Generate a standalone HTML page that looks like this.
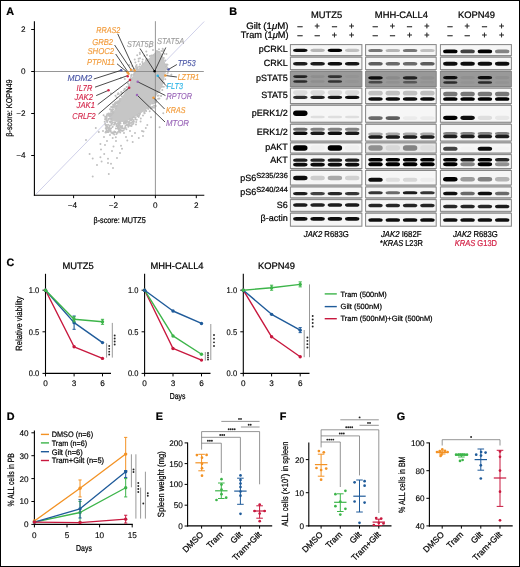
<!DOCTYPE html>
<html><head><meta charset="utf-8"><title>Figure</title>
<style>html,body{margin:0;padding:0;background:#fff;}svg{display:block;will-change:transform;}
text{font-family:"Liberation Sans", sans-serif;text-rendering:geometricPrecision;}</style></head>
<body><svg width="520" height="567" viewBox="0 0 520 567" font-family="'Liberation Sans', sans-serif"><rect x="0.5" y="0.5" width="519" height="566" fill="#fff" stroke="#000" stroke-width="1"/>
<text x="6.20" y="15.00" font-size="10.8" stroke="#000" stroke-width="0.22" font-weight="bold">A</text>
<text x="229.20" y="14.80" font-size="10.8" stroke="#000" stroke-width="0.22" font-weight="bold">B</text>
<text x="6.50" y="265.50" font-size="10.8" stroke="#000" stroke-width="0.22" font-weight="bold">C</text>
<text x="6.70" y="420.00" font-size="10.8" stroke="#000" stroke-width="0.22" font-weight="bold">D</text>
<text x="155.80" y="419.50" font-size="10.8" stroke="#000" stroke-width="0.22" font-weight="bold">E</text>
<text x="279.70" y="419.50" font-size="10.8" stroke="#000" stroke-width="0.22" font-weight="bold">F</text>
<text x="396.70" y="419.50" font-size="10.8" stroke="#000" stroke-width="0.22" font-weight="bold">G</text>
<line x1="36.00" y1="194.20" x2="204.20" y2="21.50" stroke="#c9cbe6" stroke-width="0.9"/>
<polygon points="157.0,51.5 149.8,58.5 143.0,63.8 139.0,69.2 134.5,73.5 131.5,80.0 129.5,85.4 126.5,91.0 122.5,97.0 119.0,103.0 115.5,109.0 112.5,115.0 111.0,120.0 118.0,122.0 126.0,121.0 133.0,117.0 140.0,113.0 145.0,110.0 148.5,107.0 151.0,104.0 153.8,101.5 155.2,96.0 159.2,90.8 162.0,85.4 163.3,80.0 164.6,74.6 166.0,69.2 164.6,63.8 163.3,58.5 160.6,53.0" fill="#c6c6c6" stroke="#c6c6c6" stroke-width="1.2" stroke-linejoin="round"/>
<path d="M109.7 114.5h0M113.4 111.9h0M108.5 113.4h0M165.6 64.4h0M140.0 58.3h0M128.9 124.6h0M144.4 113.2h0M131.7 75.1h0M112.5 110.3h0M134.3 68.8h0M133.9 117.0h0M166.4 54.0h0M162.7 48.8h0M159.4 98.5h0M156.9 51.1h0M152.4 106.7h0M135.2 117.6h0M113.1 113.1h0M132.2 66.0h0M110.4 114.5h0M120.5 123.6h0M140.6 121.4h0M109.7 128.6h0M128.5 87.0h0M146.3 59.0h0M131.1 75.9h0M134.0 74.3h0M112.6 109.6h0M136.1 67.5h0M149.9 56.2h0M125.7 121.3h0M114.3 131.4h0M139.4 66.6h0M111.3 115.6h0M116.5 106.2h0M148.5 108.8h0M150.7 108.6h0M143.0 115.5h0M118.2 93.2h0M134.4 72.9h0M130.4 125.8h0M131.7 79.1h0M153.0 50.0h0M155.7 106.0h0M162.3 89.9h0M140.1 64.2h0M136.4 69.1h0M118.8 127.9h0M146.3 51.4h0M120.8 77.9h0M131.9 119.4h0M113.3 107.2h0M131.6 122.7h0M129.9 80.4h0M120.4 99.0h0M130.8 62.3h0M168.0 72.0h0M113.8 132.4h0M163.4 50.3h0M139.1 115.7h0M115.0 103.3h0M166.9 68.7h0M131.5 74.8h0M139.9 54.0h0M161.4 51.0h0M118.9 101.2h0M145.8 110.8h0M159.3 52.1h0M124.5 123.2h0M105.1 119.2h0M147.2 59.3h0M106.1 119.1h0M158.6 92.1h0M104.7 121.7h0M154.2 101.1h0M147.0 55.1h0M131.0 80.2h0M138.6 58.8h0M124.8 79.1h0M158.1 51.8h0M152.9 103.5h0M118.6 128.9h0M126.6 89.9h0M171.4 74.7h0M158.2 98.8h0M146.2 110.9h0M137.2 55.3h0M164.1 82.7h0M115.5 95.8h0M135.5 71.2h0M158.7 95.6h0M115.2 123.1h0M116.7 97.6h0M167.5 64.8h0M115.9 103.6h0M166.7 64.6h0M116.6 102.6h0M114.8 106.5h0M137.6 67.4h0M111.6 114.7h0M128.7 85.1h0M162.0 86.7h0M123.7 90.6h0M135.4 62.6h0M137.5 69.3h0M130.9 78.4h0M108.7 114.5h0M148.2 109.1h0M125.0 123.6h0M135.1 72.6h0M151.4 55.6h0M117.9 123.3h0M115.5 104.5h0M138.6 61.2h0M142.8 63.7h0M137.6 67.2h0M167.5 73.5h0M133.6 74.6h0M166.2 66.5h0M136.2 122.0h0M130.4 120.0h0M140.1 113.8h0M152.0 107.9h0M125.4 126.0h0M137.9 115.8h0M128.7 122.2h0M143.5 131.6h0M112.5 111.0h0M110.9 93.5h0M166.6 99.3h0M119.8 101.2h0M112.7 122.6h0M154.0 107.7h0M119.9 99.6h0M166.0 66.4h0M116.5 106.6h0M144.3 55.7h0M117.7 94.2h0M171.3 74.7h0M162.6 51.2h0M164.7 75.1h0M154.9 102.4h0M153.2 55.2h0M161.1 95.9h0M163.3 113.2h0M124.2 128.8h0M121.4 94.0h0M157.6 95.7h0M150.5 107.0h0M106.2 125.1h0M129.6 79.5h0M131.9 119.5h0M146.7 60.8h0M142.7 59.6h0M161.0 96.0h0M111.8 124.0h0M105.1 116.7h0M144.7 113.3h0M148.2 107.4h0M111.2 119.3h0M149.5 46.9h0M129.3 64.9h0M118.8 93.9h0M129.2 121.5h0M159.0 49.2h0M167.2 67.4h0M137.5 68.4h0M103.6 115.3h0M137.3 116.0h0M119.8 100.3h0M125.0 121.9h0M147.9 108.1h0M132.3 70.2h0M109.7 125.9h0M117.8 127.5h0M164.2 53.8h0M136.0 124.5h0M121.8 96.2h0M118.9 131.6h0M130.9 78.1h0M167.1 69.5h0M114.0 124.8h0M139.8 52.7h0M124.5 89.1h0M156.2 100.0h0M132.4 117.9h0M111.3 118.4h0M114.6 123.7h0M117.6 101.9h0M115.8 108.5h0M163.8 86.8h0M138.6 117.0h0M108.7 119.1h0M134.7 59.4h0M149.7 111.3h0M113.1 104.5h0M136.6 65.0h0M124.9 88.8h0M119.9 99.1h0M137.2 115.0h0M149.9 56.1h0M136.0 71.1h0M159.6 91.4h0M128.0 83.2h0M117.4 125.5h0M162.1 86.7h0M126.6 87.1h0M127.3 121.5h0M119.2 122.3h0M140.8 118.6h0M142.3 62.0h0M144.4 112.8h0M165.2 60.4h0M155.0 99.0h0M121.2 92.0h0M153.6 103.2h0M156.3 102.0h0M125.1 121.9h0M163.8 57.9h0M154.1 105.7h0M127.5 125.1h0M132.9 119.8h0M120.4 123.3h0M166.7 86.3h0M113.0 107.5h0M122.5 92.8h0M145.9 60.6h0M135.9 66.2h0M165.3 79.3h0M144.2 111.9h0M136.7 119.7h0M118.9 123.9h0M129.9 123.7h0M122.1 131.1h0M112.7 126.8h0M112.6 111.4h0M106.7 132.3h0M111.0 114.9h0M110.6 122.5h0M126.6 125.1h0M110.8 131.1h0M116.5 134.1h0M114.6 104.3h0M113.0 111.6h0M112.3 132.6h0M107.5 131.2h0M110.7 113.2h0M119.2 124.6h0M132.1 124.6h0M106.8 116.6h0M125.1 127.4h0M114.3 134.5h0M124.3 122.6h0M115.4 122.9h0M118.6 128.6h0M122.0 127.9h0M105.7 128.3h0M127.7 124.4h0M117.8 103.8h0M114.5 104.9h0M110.1 113.4h0M138.9 113.7h0M105.9 119.2h0M128.8 123.6h0M115.3 102.6h0M106.3 126.9h0M106.7 118.1h0M110.8 109.6h0M121.1 126.6h0M111.6 113.9h0M130.1 119.7h0M107.2 126.7h0M107.7 132.0h0M111.2 111.3h0M105.4 118.5h0M126.8 122.3h0M133.6 121.8h0M133.4 123.7h0M113.5 112.5h0M132.0 118.7h0M106.6 120.4h0M108.6 131.9h0M107.2 122.1h0M106.4 125.4h0M114.5 106.1h0M108.1 124.7h0M119.2 100.5h0M108.8 130.1h0M128.7 125.9h0M113.9 106.7h0M106.5 129.6h0M116.4 124.3h0M127.0 124.6h0M132.9 121.7h0M113.1 106.3h0M107.1 114.2h0M109.9 125.5h0M109.4 116.3h0M116.4 126.0h0M105.7 125.2h0M111.8 121.5h0M112.5 106.5h0M126.4 129.3h0M112.2 111.6h0M105.9 131.4h0M129.7 122.7h0M131.5 126.0h0M111.3 107.1h0M105.5 132.5h0M115.1 106.7h0M122.8 130.4h0M120.0 121.9h0M123.5 130.4h0M105.2 123.9h0M120.0 130.5h0M122.7 128.0h0M139.5 114.4h0M107.3 120.9h0M135.3 119.2h0M110.4 131.1h0M115.4 131.9h0M111.1 107.0h0M120.6 129.4h0M117.0 133.0h0M111.0 119.0h0M107.9 127.7h0M113.3 106.6h0M110.6 116.4h0M126.4 121.3h0M108.9 114.8h0M128.3 126.8h0M110.6 121.6h0M125.6 127.8h0M105.2 124.3h0M110.1 130.4h0M106.8 115.8h0M115.3 108.5h0M108.9 128.9h0M116.8 106.0h0M125.5 123.3h0M130.4 120.2h0M132.7 117.8h0M119.1 122.4h0M105.8 119.6h0M106.7 131.1h0M108.7 130.5h0M112.0 113.2h0M120.9 130.3h0M108.7 127.4h0M107.2 127.9h0M119.7 125.8h0M111.1 128.5h0M124.4 122.0h0M118.1 126.8h0M135.6 117.6h0M109.8 121.7h0M113.0 133.4h0M120.2 127.5h0M115.5 102.4h0M120.8 126.6h0M109.9 109.3h0M108.2 114.0h0M123.8 123.5h0M118.8 102.5h0M111.3 132.8h0M133.6 120.5h0M118.5 125.8h0M119.9 128.1h0M108.7 129.4h0M113.1 109.6h0M120.2 132.6h0M111.2 107.2h0M115.1 104.5h0M130.0 118.9h0M127.7 124.6h0M122.3 125.9h0M118.8 129.7h0M112.5 127.0h0M107.0 131.4h0M121.8 127.0h0M109.6 118.6h0M106.0 131.7h0M117.6 132.7h0M131.1 120.6h0M108.7 115.4h0M110.4 130.9h0M118.8 131.2h0M115.9 128.6h0M119.8 131.4h0M108.3 119.6h0M114.6 122.7h0M109.1 118.7h0M133.9 121.7h0M117.7 128.4h0M117.3 101.6h0M110.3 128.8h0M112.1 114.2h0M109.6 126.8h0M123.9 122.3h0M111.6 124.8h0M95.8 128.0h0M98.8 132.0h0M104.0 137.0h0M112.7 138.0h0M115.8 137.3h0M127.3 140.4h0M132.7 142.0h0M138.8 138.0h0M100.4 144.0h0M105.0 145.0h0M113.5 146.5h0M121.0 145.8h0M122.0 148.8h0M101.0 149.6h0M112.0 151.0h0M89.6 154.0h0M104.2 154.0h0M92.7 158.5h0M100.4 157.3h0M101.6 161.6h0M108.0 158.8h0M108.0 163.0h0M111.0 163.8h0M108.8 174.0h0M92.7 176.5h0M159.6 127.3h0M145.8 128.0h0M147.3 125.0h0M151.0 117.3h0M118.0 132.0h0M124.0 133.0h0M130.0 131.0h0M135.0 133.0h0M142.0 131.0h0M110.0 135.0h0M116.0 141.0h0M103.0 131.0h0M107.0 141.0h0M120.0 153.0h0M117.0 158.0h0M97.0 165.0h0M113.0 168.0h0M86.0 140.0h0M143.0 136.0h0M126.0 137.0h0M132.0 136.0h0" stroke="#c0c0c0" stroke-width="2.0" stroke-linecap="round"/>
<line x1="34.40" y1="71.50" x2="203.80" y2="71.50" stroke="#8a8a8a" stroke-width="0.9"/>
<line x1="155.40" y1="21.20" x2="155.40" y2="195.20" stroke="#8a8a8a" stroke-width="0.9"/>
<line x1="34.40" y1="21.20" x2="34.40" y2="195.80" stroke="#000" stroke-width="1.1"/>
<line x1="33.90" y1="195.20" x2="204.30" y2="195.20" stroke="#000" stroke-width="1.1"/>
<line x1="31.20" y1="29.50" x2="34.40" y2="29.50" stroke="#000" stroke-width="1"/>
<text x="25.50" y="32.40" font-size="8.2" text-anchor="end" stroke="#000" stroke-width="0.1">2</text>
<line x1="31.20" y1="71.50" x2="34.40" y2="71.50" stroke="#000" stroke-width="1"/>
<text x="25.50" y="74.40" font-size="8.2" text-anchor="end" stroke="#000" stroke-width="0.1">0</text>
<line x1="31.20" y1="113.50" x2="34.40" y2="113.50" stroke="#000" stroke-width="1"/>
<text x="25.50" y="116.40" font-size="8.2" text-anchor="end" stroke="#000" stroke-width="0.1">−2</text>
<line x1="31.20" y1="155.50" x2="34.40" y2="155.50" stroke="#000" stroke-width="1"/>
<text x="25.50" y="158.40" font-size="8.2" text-anchor="end" stroke="#000" stroke-width="0.1">−4</text>
<line x1="73.60" y1="195.20" x2="73.60" y2="198.20" stroke="#000" stroke-width="1"/>
<text x="72.40" y="208.20" font-size="8.2" text-anchor="middle" stroke="#000" stroke-width="0.1">−4</text>
<line x1="114.50" y1="195.20" x2="114.50" y2="198.20" stroke="#000" stroke-width="1"/>
<text x="113.30" y="208.20" font-size="8.2" text-anchor="middle" stroke="#000" stroke-width="0.1">−2</text>
<line x1="155.40" y1="195.20" x2="155.40" y2="198.20" stroke="#000" stroke-width="1"/>
<text x="155.40" y="208.20" font-size="8.2" text-anchor="middle" stroke="#000" stroke-width="0.1">0</text>
<line x1="196.30" y1="195.20" x2="196.30" y2="198.20" stroke="#000" stroke-width="1"/>
<text x="196.30" y="208.20" font-size="8.2" text-anchor="middle" stroke="#000" stroke-width="0.1">2</text>
<text x="93.50" y="222.80" font-size="8.3" stroke="#000" stroke-width="0.22" textLength="52.3" lengthAdjust="spacingAndGlyphs">β-score: MUTZ5</text>
<text x="12.20" y="136.70" font-size="8.3" stroke="#000" stroke-width="0.22" textLength="57.3" lengthAdjust="spacingAndGlyphs" transform="rotate(-90 12.20 136.70)">β-score: KOPN49</text>
<line x1="117.70" y1="33.80" x2="134.60" y2="70.40" stroke="#2a2a2a" stroke-width="0.85"/>
<line x1="114.60" y1="45.00" x2="131.20" y2="69.80" stroke="#2a2a2a" stroke-width="0.85"/>
<line x1="115.70" y1="54.00" x2="128.50" y2="72.80" stroke="#2a2a2a" stroke-width="0.85"/>
<line x1="117.00" y1="63.80" x2="127.50" y2="72.40" stroke="#2a2a2a" stroke-width="0.85"/>
<line x1="140.00" y1="48.50" x2="154.60" y2="71.30" stroke="#2a2a2a" stroke-width="0.85"/>
<line x1="165.80" y1="47.50" x2="154.60" y2="71.30" stroke="#2a2a2a" stroke-width="0.85"/>
<line x1="176.90" y1="64.50" x2="168.50" y2="69.40" stroke="#2a2a2a" stroke-width="0.85"/>
<line x1="176.90" y1="77.00" x2="165.40" y2="75.50" stroke="#2a2a2a" stroke-width="0.85"/>
<line x1="165.80" y1="85.50" x2="157.70" y2="75.80" stroke="#2a2a2a" stroke-width="0.85"/>
<line x1="165.40" y1="95.50" x2="137.70" y2="81.80" stroke="#2a2a2a" stroke-width="0.85"/>
<line x1="164.60" y1="109.00" x2="153.50" y2="97.80" stroke="#2a2a2a" stroke-width="0.85"/>
<line x1="165.00" y1="122.00" x2="137.00" y2="95.00" stroke="#2a2a2a" stroke-width="0.85"/>
<line x1="93.80" y1="79.00" x2="121.20" y2="70.30" stroke="#2a2a2a" stroke-width="0.85"/>
<line x1="95.00" y1="87.20" x2="127.70" y2="75.60" stroke="#2a2a2a" stroke-width="0.85"/>
<line x1="96.20" y1="95.60" x2="108.50" y2="90.30" stroke="#2a2a2a" stroke-width="0.85"/>
<line x1="97.70" y1="104.60" x2="130.00" y2="80.00" stroke="#2a2a2a" stroke-width="0.85"/>
<line x1="98.50" y1="114.00" x2="129.20" y2="87.70" stroke="#2a2a2a" stroke-width="0.85"/>
<circle cx="131.00" cy="69.80" r="1.25" fill="#f29a38"/>
<circle cx="134.60" cy="70.40" r="1.25" fill="#f29a38"/>
<circle cx="127.50" cy="72.40" r="1.25" fill="#f29a38"/>
<circle cx="128.50" cy="73.80" r="1.25" fill="#f29a38"/>
<circle cx="121.20" cy="70.20" r="1.25" fill="#4a56a6"/>
<circle cx="168.50" cy="69.40" r="1.25" fill="#4a56a6"/>
<circle cx="154.60" cy="71.30" r="1.25" fill="#000"/>
<circle cx="127.70" cy="76.20" r="1.25" fill="#d4264a"/>
<circle cx="108.50" cy="90.30" r="1.25" fill="#d4264a"/>
<circle cx="130.00" cy="80.00" r="1.25" fill="#d4264a"/>
<circle cx="129.20" cy="87.70" r="1.25" fill="#d4264a"/>
<circle cx="157.70" cy="75.80" r="1.25" fill="#29b3e6"/>
<circle cx="165.40" cy="75.50" r="1.25" fill="#f29a38"/>
<circle cx="153.50" cy="97.80" r="1.25" fill="#f29a38"/>
<circle cx="137.70" cy="81.80" r="1.25" fill="#9a66b8"/>
<circle cx="137.00" cy="95.00" r="1.25" fill="#9a66b8"/>
<text x="96.20" y="32.70" font-size="8.6" fill="#f29a38" stroke="#f29a38" stroke-width="0.12" font-style="italic" textLength="24.1" lengthAdjust="spacingAndGlyphs">RRAS2</text>
<text x="92.30" y="44.50" font-size="8.6" fill="#f29a38" stroke="#f29a38" stroke-width="0.12" font-style="italic" textLength="20.7" lengthAdjust="spacingAndGlyphs">GRB2</text>
<text x="87.40" y="54.20" font-size="8.6" fill="#f29a38" stroke="#f29a38" stroke-width="0.12" font-style="italic" textLength="26.8" lengthAdjust="spacingAndGlyphs">SHOC2</text>
<text x="86.90" y="65.00" font-size="8.6" fill="#f29a38" stroke="#f29a38" stroke-width="0.12" font-style="italic" textLength="28.1" lengthAdjust="spacingAndGlyphs">PTPN11</text>
<text x="127.00" y="46.50" font-size="8.6" fill="#9c9c9c" stroke="#9c9c9c" stroke-width="0.12" font-style="italic" textLength="26.5" lengthAdjust="spacingAndGlyphs">STAT5B</text>
<text x="156.90" y="44.20" font-size="8.6" fill="#9c9c9c" stroke="#9c9c9c" stroke-width="0.12" font-style="italic" textLength="27.4" lengthAdjust="spacingAndGlyphs">STAT5A</text>
<text x="177.70" y="65.50" font-size="8.6" fill="#4a56a6" stroke="#4a56a6" stroke-width="0.12" font-style="italic" textLength="18.0" lengthAdjust="spacingAndGlyphs">TP53</text>
<text x="177.70" y="80.40" font-size="8.6" fill="#f29a38" stroke="#f29a38" stroke-width="0.12" font-style="italic" textLength="21.5" lengthAdjust="spacingAndGlyphs">LZTR1</text>
<text x="166.50" y="88.80" font-size="8.6" fill="#29b3e6" stroke="#29b3e6" stroke-width="0.12" font-style="italic" textLength="16.5" lengthAdjust="spacingAndGlyphs">FLT3</text>
<text x="166.50" y="98.50" font-size="8.6" fill="#9a66b8" stroke="#9a66b8" stroke-width="0.12" font-style="italic" textLength="25.5" lengthAdjust="spacingAndGlyphs">RPTOR</text>
<text x="166.00" y="113.00" font-size="8.6" fill="#f29a38" stroke="#f29a38" stroke-width="0.12" font-style="italic" textLength="19.4" lengthAdjust="spacingAndGlyphs">KRAS</text>
<text x="166.00" y="126.00" font-size="8.6" fill="#9a66b8" stroke="#9a66b8" stroke-width="0.12" font-style="italic" textLength="23" lengthAdjust="spacingAndGlyphs">MTOR</text>
<text x="67.40" y="81.20" font-size="8.6" fill="#4a56a6" stroke="#4a56a6" stroke-width="0.12" font-style="italic" textLength="24.9" lengthAdjust="spacingAndGlyphs">MDM2</text>
<text x="76.60" y="90.80" font-size="8.6" fill="#d4264a" stroke="#d4264a" stroke-width="0.12" font-style="italic" textLength="15.7" lengthAdjust="spacingAndGlyphs">IL7R</text>
<text x="74.60" y="99.70" font-size="8.6" fill="#d4264a" stroke="#d4264a" stroke-width="0.12" font-style="italic" textLength="18.4" lengthAdjust="spacingAndGlyphs">JAK2</text>
<text x="76.60" y="107.70" font-size="8.6" fill="#d4264a" stroke="#d4264a" stroke-width="0.12" font-style="italic" textLength="18.4" lengthAdjust="spacingAndGlyphs">JAK1</text>
<text x="72.30" y="118.50" font-size="8.6" fill="#d4264a" stroke="#d4264a" stroke-width="0.12" font-style="italic" textLength="23.4" lengthAdjust="spacingAndGlyphs">CRLF2</text>
<text x="287.80" y="52.40" font-size="9" text-anchor="end" stroke="#000" stroke-width="0.22">pCRKL</text>
<text x="287.80" y="65.70" font-size="9" text-anchor="end" stroke="#000" stroke-width="0.22">CRKL</text>
<text x="287.80" y="81.00" font-size="9" text-anchor="end" stroke="#000" stroke-width="0.22">pSTAT5</text>
<text x="287.80" y="98.00" font-size="9" text-anchor="end" stroke="#000" stroke-width="0.22">STAT5</text>
<text x="287.80" y="116.20" font-size="9" text-anchor="end" stroke="#000" stroke-width="0.22">pERK1/2</text>
<text x="287.80" y="134.80" font-size="9" text-anchor="end" stroke="#000" stroke-width="0.22">ERK1/2</text>
<text x="287.80" y="149.60" font-size="9" text-anchor="end" stroke="#000" stroke-width="0.22">pAKT</text>
<text x="287.80" y="163.30" font-size="9" text-anchor="end" stroke="#000" stroke-width="0.22">AKT</text>
<text x="287.80" y="207.60" font-size="9" text-anchor="end" stroke="#000" stroke-width="0.22">S6</text>
<text x="287.80" y="221.20" font-size="9" text-anchor="end" stroke="#000" stroke-width="0.22">β-actin</text>
<text x="287.80" y="181.40" font-size="9" text-anchor="end" stroke="#000" stroke-width="0.22">pS6<tspan font-size="7.4" dy="-3.6">S235/236</tspan></text>
<text x="287.80" y="195.20" font-size="9" text-anchor="end" stroke="#000" stroke-width="0.22">pS6<tspan font-size="7.4" dy="-3.6">S240/244</tspan></text>
<text x="326.65" y="17.50" font-size="9.4" text-anchor="middle" stroke="#000" stroke-width="0.22">MUTZ5</text>
<text x="401.40" y="17.50" font-size="9.4" text-anchor="middle" stroke="#000" stroke-width="0.22">MHH-CALL4</text>
<text x="476.40" y="17.50" font-size="9.4" text-anchor="middle" stroke="#000" stroke-width="0.22">KOPN49</text>
<text x="246.20" y="29.10" font-size="9.4" stroke="#000" stroke-width="0.22" textLength="42.3" lengthAdjust="spacingAndGlyphs">Gilt (1<tspan font-style="italic">μ</tspan>M)</text>
<text x="240.80" y="38.20" font-size="9.4" stroke="#000" stroke-width="0.22" textLength="47.7" lengthAdjust="spacingAndGlyphs">Tram (1<tspan font-style="italic">μ</tspan>M)</text>
<text x="300.00" y="29.30" font-size="9" text-anchor="middle" stroke="#000" stroke-width="0.22">–</text>
<text x="300.00" y="38.40" font-size="9" text-anchor="middle" stroke="#000" stroke-width="0.22">–</text>
<text x="317.20" y="29.30" font-size="9" text-anchor="middle" stroke="#000" stroke-width="0.22">+</text>
<text x="317.20" y="38.40" font-size="9" text-anchor="middle" stroke="#000" stroke-width="0.22">–</text>
<text x="334.40" y="29.30" font-size="9" text-anchor="middle" stroke="#000" stroke-width="0.22">–</text>
<text x="334.40" y="38.40" font-size="9" text-anchor="middle" stroke="#000" stroke-width="0.22">+</text>
<text x="351.60" y="29.30" font-size="9" text-anchor="middle" stroke="#000" stroke-width="0.22">+</text>
<text x="351.60" y="38.40" font-size="9" text-anchor="middle" stroke="#000" stroke-width="0.22">+</text>
<text x="375.20" y="29.30" font-size="9" text-anchor="middle" stroke="#000" stroke-width="0.22">–</text>
<text x="375.20" y="38.40" font-size="9" text-anchor="middle" stroke="#000" stroke-width="0.22">–</text>
<text x="392.40" y="29.30" font-size="9" text-anchor="middle" stroke="#000" stroke-width="0.22">+</text>
<text x="392.40" y="38.40" font-size="9" text-anchor="middle" stroke="#000" stroke-width="0.22">–</text>
<text x="409.60" y="29.30" font-size="9" text-anchor="middle" stroke="#000" stroke-width="0.22">–</text>
<text x="409.60" y="38.40" font-size="9" text-anchor="middle" stroke="#000" stroke-width="0.22">+</text>
<text x="426.80" y="29.30" font-size="9" text-anchor="middle" stroke="#000" stroke-width="0.22">+</text>
<text x="426.80" y="38.40" font-size="9" text-anchor="middle" stroke="#000" stroke-width="0.22">+</text>
<text x="450.00" y="29.30" font-size="9" text-anchor="middle" stroke="#000" stroke-width="0.22">–</text>
<text x="450.00" y="38.40" font-size="9" text-anchor="middle" stroke="#000" stroke-width="0.22">–</text>
<text x="467.20" y="29.30" font-size="9" text-anchor="middle" stroke="#000" stroke-width="0.22">+</text>
<text x="467.20" y="38.40" font-size="9" text-anchor="middle" stroke="#000" stroke-width="0.22">–</text>
<text x="484.40" y="29.30" font-size="9" text-anchor="middle" stroke="#000" stroke-width="0.22">–</text>
<text x="484.40" y="38.40" font-size="9" text-anchor="middle" stroke="#000" stroke-width="0.22">+</text>
<text x="501.60" y="29.30" font-size="9" text-anchor="middle" stroke="#000" stroke-width="0.22">+</text>
<text x="501.60" y="38.40" font-size="9" text-anchor="middle" stroke="#000" stroke-width="0.22">+</text>
<defs><filter id="bl" x="-20%" y="-80%" width="140%" height="260%"><feGaussianBlur stdDeviation="0.7"/></filter></defs>
<rect x="290.70" y="44.60" width="70.90" height="181.60" fill="#bcbcbc"/>
<rect x="290.40" y="44.60" width="71.50" height="11.00" fill="#f6f6f6" stroke="#858585" stroke-width="1"/>
<g filter="url(#bl)"><rect x="293.10" y="48.70" width="14.40" height="3.20" rx="3" ry="1.60" fill="#0d0d0d"/><rect x="310.40" y="48.70" width="14.40" height="3.20" rx="3" ry="1.60" fill="#b5b5b5"/><rect x="327.70" y="48.70" width="14.40" height="3.20" rx="3" ry="1.60" fill="#000000"/><rect x="345.00" y="48.70" width="14.40" height="3.20" rx="3" ry="1.60" fill="#c0c0c0"/></g>
<rect x="290.40" y="57.20" width="71.50" height="12.40" fill="#f6f6f6" stroke="#858585" stroke-width="1"/>
<g filter="url(#bl)"><rect x="293.10" y="62.10" width="14.40" height="3.40" rx="3" ry="1.70" fill="#1b1b1b"/><rect x="310.40" y="62.10" width="14.40" height="3.40" rx="3" ry="1.70" fill="#1b1b1b"/><rect x="327.70" y="62.10" width="14.40" height="3.40" rx="3" ry="1.70" fill="#0d0d0d"/><rect x="345.00" y="62.10" width="14.40" height="3.40" rx="3" ry="1.70" fill="#161616"/></g>
<rect x="290.40" y="71.50" width="71.50" height="15.00" fill="#999999" stroke="#858585" stroke-width="1"/>
<g filter="url(#bl)"><rect x="293.10" y="75.30" width="14.40" height="2.60" rx="3" ry="1.30" fill="#212121"/><rect x="310.40" y="75.30" width="14.40" height="2.60" rx="3" ry="1.30" fill="#8e8e8e"/><rect x="327.70" y="75.30" width="14.40" height="2.60" rx="3" ry="1.30" fill="#313131"/><rect x="345.00" y="75.30" width="14.40" height="2.60" rx="3" ry="1.30" fill="#949494"/><rect x="293.10" y="80.20" width="14.40" height="2.60" rx="3" ry="1.30" fill="#292929"/><rect x="310.40" y="80.20" width="14.40" height="2.60" rx="3" ry="1.30" fill="#8e8e8e"/><rect x="327.70" y="80.20" width="14.40" height="2.60" rx="3" ry="1.30" fill="#313131"/><rect x="345.00" y="80.20" width="14.40" height="2.60" rx="3" ry="1.30" fill="#949494"/></g>
<rect x="290.40" y="88.20" width="71.50" height="15.30" fill="#f6f6f6" stroke="#858585" stroke-width="1"/>
<g filter="url(#bl)"><rect x="293.10" y="90.15" width="14.40" height="4.90" rx="3" ry="2.45" fill="#dedede"/><rect x="310.40" y="90.15" width="14.40" height="4.90" rx="3" ry="2.45" fill="#dadada"/><rect x="327.70" y="90.15" width="14.40" height="4.90" rx="3" ry="2.45" fill="#dadada"/><rect x="345.00" y="90.15" width="14.40" height="4.90" rx="3" ry="2.45" fill="#dadada"/><rect x="293.10" y="95.65" width="14.40" height="3.30" rx="3" ry="1.65" fill="#303030"/><rect x="310.40" y="95.65" width="14.40" height="3.30" rx="3" ry="1.65" fill="#202020"/><rect x="327.70" y="95.65" width="14.40" height="3.30" rx="3" ry="1.65" fill="#161616"/><rect x="345.00" y="95.65" width="14.40" height="3.30" rx="3" ry="1.65" fill="#0d0d0d"/></g>
<rect x="290.40" y="105.30" width="71.50" height="16.90" fill="#f6f6f6" stroke="#858585" stroke-width="1"/>
<g filter="url(#bl)"><rect x="293.10" y="110.55" width="14.40" height="5.50" rx="3" ry="2.75" fill="#000000"/><rect x="310.40" y="115.80" width="14.40" height="2.40" rx="3" ry="1.20" fill="#dedede"/><rect x="327.70" y="115.80" width="14.40" height="2.40" rx="3" ry="1.20" fill="#dedede"/><rect x="345.00" y="115.80" width="14.40" height="2.40" rx="3" ry="1.20" fill="#dedede"/></g>
<rect x="290.40" y="124.30" width="71.50" height="16.70" fill="#f6f6f6" stroke="#858585" stroke-width="1"/>
<g filter="url(#bl)"><rect x="293.10" y="127.75" width="14.40" height="3.10" rx="3" ry="1.55" fill="#6a6a6a"/><rect x="310.40" y="127.75" width="14.40" height="3.10" rx="3" ry="1.55" fill="#838383"/><rect x="327.70" y="127.75" width="14.40" height="3.10" rx="3" ry="1.55" fill="#838383"/><rect x="345.00" y="127.75" width="14.40" height="3.10" rx="3" ry="1.55" fill="#838383"/><rect x="293.10" y="131.45" width="14.40" height="3.50" rx="3" ry="1.75" fill="#0d0d0d"/><rect x="310.40" y="131.45" width="14.40" height="3.50" rx="3" ry="1.75" fill="#1b1b1b"/><rect x="327.70" y="131.45" width="14.40" height="3.50" rx="3" ry="1.75" fill="#0d0d0d"/><rect x="345.00" y="131.45" width="14.40" height="3.50" rx="3" ry="1.75" fill="#1b1b1b"/></g>
<rect x="290.40" y="142.90" width="71.50" height="10.10" fill="#f6f6f6" stroke="#858585" stroke-width="1"/>
<g filter="url(#bl)"><rect x="293.10" y="145.35" width="14.40" height="5.30" rx="3" ry="2.65" fill="#000000"/><rect x="310.40" y="145.35" width="14.40" height="5.30" rx="3" ry="2.65" fill="#efefef"/><rect x="327.70" y="145.35" width="14.40" height="5.30" rx="3" ry="2.65" fill="#000000"/><rect x="345.00" y="145.35" width="14.40" height="5.30" rx="3" ry="2.65" fill="#efefef"/></g>
<rect x="290.40" y="154.60" width="71.50" height="13.90" fill="#f6f6f6" stroke="#858585" stroke-width="1"/>
<g filter="url(#bl)"><rect x="293.10" y="158.55" width="14.40" height="3.30" rx="3" ry="1.65" fill="#1b1b1b"/><rect x="310.40" y="158.55" width="14.40" height="3.30" rx="3" ry="1.65" fill="#282828"/><rect x="327.70" y="158.55" width="14.40" height="3.30" rx="3" ry="1.65" fill="#1b1b1b"/><rect x="345.00" y="158.55" width="14.40" height="3.30" rx="3" ry="1.65" fill="#1b1b1b"/><rect x="293.10" y="162.65" width="14.40" height="3.90" rx="3" ry="1.95" fill="#0d0d0d"/><rect x="310.40" y="162.65" width="14.40" height="3.90" rx="3" ry="1.95" fill="#0d0d0d"/><rect x="327.70" y="162.65" width="14.40" height="3.90" rx="3" ry="1.95" fill="#0d0d0d"/><rect x="345.00" y="162.65" width="14.40" height="3.90" rx="3" ry="1.95" fill="#0d0d0d"/></g>
<rect x="290.40" y="170.50" width="71.50" height="14.50" fill="#f6f6f6" stroke="#858585" stroke-width="1"/>
<g filter="url(#bl)"><rect x="293.10" y="175.65" width="14.40" height="4.50" rx="3" ry="2.25" fill="#0d0d0d"/><rect x="310.40" y="175.65" width="14.40" height="4.50" rx="3" ry="2.25" fill="#cccccc"/><rect x="327.70" y="175.65" width="14.40" height="4.50" rx="3" ry="2.25" fill="#a8a8a8"/><rect x="345.00" y="175.65" width="14.40" height="4.50" rx="3" ry="2.25" fill="#d1d1d1"/></g>
<rect x="290.40" y="187.00" width="71.50" height="10.80" fill="#f6f6f6" stroke="#858585" stroke-width="1"/>
<g filter="url(#bl)"><rect x="293.10" y="192.05" width="14.40" height="3.10" rx="3" ry="1.55" fill="#1b1b1b"/><rect x="310.40" y="192.05" width="14.40" height="3.10" rx="3" ry="1.55" fill="#434343"/><rect x="327.70" y="192.05" width="14.40" height="3.10" rx="3" ry="1.55" fill="#282828"/><rect x="345.00" y="192.05" width="14.40" height="3.10" rx="3" ry="1.55" fill="#363636"/></g>
<rect x="290.40" y="199.60" width="71.50" height="11.70" fill="#f6f6f6" stroke="#858585" stroke-width="1"/>
<g filter="url(#bl)"><rect x="293.10" y="203.25" width="14.40" height="3.50" rx="3" ry="1.75" fill="#1b1b1b"/><rect x="310.40" y="203.25" width="14.40" height="3.50" rx="3" ry="1.75" fill="#202020"/><rect x="327.70" y="203.25" width="14.40" height="3.50" rx="3" ry="1.75" fill="#1b1b1b"/><rect x="345.00" y="203.25" width="14.40" height="3.50" rx="3" ry="1.75" fill="#1b1b1b"/></g>
<rect x="290.40" y="213.20" width="71.50" height="13.00" fill="#f6f6f6" stroke="#858585" stroke-width="1"/>
<g filter="url(#bl)"><rect x="293.10" y="216.95" width="14.40" height="3.70" rx="3" ry="1.85" fill="#0d0d0d"/><rect x="310.40" y="216.95" width="14.40" height="3.70" rx="3" ry="1.85" fill="#0d0d0d"/><rect x="327.70" y="216.95" width="14.40" height="3.70" rx="3" ry="1.85" fill="#0d0d0d"/><rect x="345.00" y="216.95" width="14.40" height="3.70" rx="3" ry="1.85" fill="#0d0d0d"/></g>
<rect x="365.90" y="44.60" width="70.00" height="181.60" fill="#bcbcbc"/>
<rect x="365.60" y="44.60" width="70.60" height="11.00" fill="#f6f6f6" stroke="#858585" stroke-width="1"/>
<g filter="url(#bl)"><rect x="368.30" y="48.95" width="14.40" height="3.10" rx="3" ry="1.55" fill="#777777"/><rect x="385.60" y="48.95" width="14.40" height="3.10" rx="3" ry="1.55" fill="#b5b5b5"/><rect x="402.90" y="48.95" width="14.40" height="3.10" rx="3" ry="1.55" fill="#777777"/><rect x="420.20" y="48.95" width="14.40" height="3.10" rx="3" ry="1.55" fill="#c0c0c0"/></g>
<rect x="365.60" y="57.20" width="70.60" height="12.40" fill="#f6f6f6" stroke="#858585" stroke-width="1"/>
<g filter="url(#bl)"><rect x="368.30" y="62.05" width="14.40" height="3.50" rx="3" ry="1.75" fill="#5d5d5d"/><rect x="385.60" y="62.05" width="14.40" height="3.50" rx="3" ry="1.75" fill="#6a6a6a"/><rect x="402.90" y="62.05" width="14.40" height="3.50" rx="3" ry="1.75" fill="#6a6a6a"/><rect x="420.20" y="62.05" width="14.40" height="3.50" rx="3" ry="1.75" fill="#5d5d5d"/></g>
<rect x="365.60" y="71.50" width="70.60" height="15.00" fill="#999999" stroke="#858585" stroke-width="1"/>
<g filter="url(#bl)"><rect x="368.30" y="76.15" width="14.40" height="3.30" rx="3" ry="1.65" fill="#0a0a0a"/><rect x="385.60" y="76.15" width="14.40" height="3.30" rx="3" ry="1.65" fill="#8b8b8b"/><rect x="402.90" y="76.15" width="14.40" height="3.30" rx="3" ry="1.65" fill="#212121"/><rect x="420.20" y="76.15" width="14.40" height="3.30" rx="3" ry="1.65" fill="#909090"/><rect x="368.30" y="80.90" width="14.40" height="2.60" rx="3" ry="1.30" fill="#474747"/><rect x="385.60" y="80.90" width="14.40" height="2.60" rx="3" ry="1.30" fill="#909090"/><rect x="402.90" y="80.90" width="14.40" height="2.60" rx="3" ry="1.30" fill="#565656"/><rect x="420.20" y="80.90" width="14.40" height="2.60" rx="3" ry="1.30" fill="#939393"/></g>
<rect x="365.60" y="88.20" width="70.60" height="15.30" fill="#f6f6f6" stroke="#858585" stroke-width="1"/>
<g filter="url(#bl)"><rect x="368.30" y="90.85" width="14.40" height="4.70" rx="3" ry="2.35" fill="#c0c0c0"/><rect x="385.60" y="90.85" width="14.40" height="4.70" rx="3" ry="2.35" fill="#c0c0c0"/><rect x="402.90" y="90.85" width="14.40" height="4.70" rx="3" ry="2.35" fill="#c0c0c0"/><rect x="420.20" y="90.85" width="14.40" height="4.70" rx="3" ry="2.35" fill="#c0c0c0"/><rect x="368.30" y="97.30" width="14.40" height="3.40" rx="3" ry="1.70" fill="#0d0d0d"/><rect x="385.60" y="97.30" width="14.40" height="3.40" rx="3" ry="1.70" fill="#0d0d0d"/><rect x="402.90" y="97.30" width="14.40" height="3.40" rx="3" ry="1.70" fill="#0d0d0d"/><rect x="420.20" y="97.30" width="14.40" height="3.40" rx="3" ry="1.70" fill="#0d0d0d"/></g>
<rect x="365.60" y="105.30" width="70.60" height="16.90" fill="#f6f6f6" stroke="#858585" stroke-width="1"/>
<g filter="url(#bl)"><rect x="368.30" y="116.25" width="14.40" height="3.70" rx="3" ry="1.85" fill="#6a6a6a"/><rect x="385.60" y="116.25" width="14.40" height="3.70" rx="3" ry="1.85" fill="#5d5d5d"/><rect x="402.90" y="116.25" width="14.40" height="3.70" rx="3" ry="1.85" fill="#ebebeb"/><rect x="420.20" y="116.25" width="14.40" height="3.70" rx="3" ry="1.85" fill="#ebebeb"/></g>
<rect x="365.60" y="124.30" width="70.60" height="16.70" fill="#f6f6f6" stroke="#858585" stroke-width="1"/>
<g filter="url(#bl)"><rect x="368.30" y="132.45" width="14.40" height="3.10" rx="3" ry="1.55" fill="#a8a8a8"/><rect x="385.60" y="132.45" width="14.40" height="3.10" rx="3" ry="1.55" fill="#a8a8a8"/><rect x="402.90" y="132.45" width="14.40" height="3.10" rx="3" ry="1.55" fill="#a8a8a8"/><rect x="420.20" y="132.45" width="14.40" height="3.10" rx="3" ry="1.55" fill="#a8a8a8"/><rect x="368.30" y="135.25" width="14.40" height="3.50" rx="3" ry="1.75" fill="#1b1b1b"/><rect x="385.60" y="135.25" width="14.40" height="3.50" rx="3" ry="1.75" fill="#1b1b1b"/><rect x="402.90" y="135.25" width="14.40" height="3.50" rx="3" ry="1.75" fill="#1b1b1b"/><rect x="420.20" y="135.25" width="14.40" height="3.50" rx="3" ry="1.75" fill="#1b1b1b"/></g>
<rect x="365.60" y="142.90" width="70.60" height="10.10" fill="#e8e8e8" stroke="#858585" stroke-width="1"/>
<g filter="url(#bl)"><rect x="368.30" y="145.25" width="14.40" height="5.50" rx="3" ry="2.75" fill="#909090"/><rect x="385.60" y="145.25" width="14.40" height="5.50" rx="3" ry="2.75" fill="#d7d7d7"/><rect x="402.90" y="145.25" width="14.40" height="5.50" rx="3" ry="2.75" fill="#838383"/><rect x="420.20" y="145.25" width="14.40" height="5.50" rx="3" ry="2.75" fill="#dedede"/></g>
<rect x="365.60" y="154.60" width="70.60" height="13.90" fill="#f6f6f6" stroke="#858585" stroke-width="1"/>
<g filter="url(#bl)"><rect x="368.30" y="158.05" width="14.40" height="3.50" rx="3" ry="1.75" fill="#000000"/><rect x="385.60" y="158.05" width="14.40" height="3.50" rx="3" ry="1.75" fill="#000000"/><rect x="402.90" y="158.05" width="14.40" height="3.50" rx="3" ry="1.75" fill="#000000"/><rect x="420.20" y="158.05" width="14.40" height="3.50" rx="3" ry="1.75" fill="#000000"/><rect x="368.30" y="162.25" width="14.40" height="4.10" rx="3" ry="2.05" fill="#000000"/><rect x="385.60" y="162.25" width="14.40" height="4.10" rx="3" ry="2.05" fill="#000000"/><rect x="402.90" y="162.25" width="14.40" height="4.10" rx="3" ry="2.05" fill="#000000"/><rect x="420.20" y="162.25" width="14.40" height="4.10" rx="3" ry="2.05" fill="#000000"/></g>
<rect x="365.60" y="170.50" width="70.60" height="14.50" fill="#f6f6f6" stroke="#858585" stroke-width="1"/>
<g filter="url(#bl)"><rect x="368.30" y="177.75" width="14.40" height="4.10" rx="3" ry="2.05" fill="#0d0d0d"/><rect x="385.60" y="177.75" width="14.40" height="4.10" rx="3" ry="2.05" fill="#dedede"/><rect x="402.90" y="177.75" width="14.40" height="4.10" rx="3" ry="2.05" fill="#d7d7d7"/><rect x="420.20" y="177.75" width="14.40" height="4.10" rx="3" ry="2.05" fill="#ededed"/></g>
<rect x="365.60" y="187.00" width="70.60" height="10.80" fill="#f6f6f6" stroke="#858585" stroke-width="1"/>
<g filter="url(#bl)"><rect x="368.30" y="191.25" width="14.40" height="3.10" rx="3" ry="1.55" fill="#363636"/><rect x="385.60" y="191.25" width="14.40" height="3.10" rx="3" ry="1.55" fill="#6a6a6a"/><rect x="402.90" y="191.25" width="14.40" height="3.10" rx="3" ry="1.55" fill="#1b1b1b"/><rect x="420.20" y="191.25" width="14.40" height="3.10" rx="3" ry="1.55" fill="#363636"/></g>
<rect x="365.60" y="199.60" width="70.60" height="11.70" fill="#f6f6f6" stroke="#858585" stroke-width="1"/>
<g filter="url(#bl)"><rect x="368.30" y="203.65" width="14.40" height="3.50" rx="3" ry="1.75" fill="#282828"/><rect x="385.60" y="203.65" width="14.40" height="3.50" rx="3" ry="1.75" fill="#282828"/><rect x="402.90" y="203.65" width="14.40" height="3.50" rx="3" ry="1.75" fill="#282828"/><rect x="420.20" y="203.65" width="14.40" height="3.50" rx="3" ry="1.75" fill="#282828"/></g>
<rect x="365.60" y="213.20" width="70.60" height="13.00" fill="#f6f6f6" stroke="#858585" stroke-width="1"/>
<g filter="url(#bl)"><rect x="368.30" y="218.15" width="14.40" height="3.70" rx="3" ry="1.85" fill="#0d0d0d"/><rect x="385.60" y="218.15" width="14.40" height="3.70" rx="3" ry="1.85" fill="#0d0d0d"/><rect x="402.90" y="218.15" width="14.40" height="3.70" rx="3" ry="1.85" fill="#0d0d0d"/><rect x="420.20" y="218.15" width="14.40" height="3.70" rx="3" ry="1.85" fill="#0d0d0d"/></g>
<rect x="440.70" y="44.60" width="70.40" height="181.60" fill="#bcbcbc"/>
<rect x="440.40" y="44.60" width="71.00" height="11.00" fill="#f6f6f6" stroke="#858585" stroke-width="1"/>
<g filter="url(#bl)"><rect x="443.10" y="49.45" width="14.40" height="3.90" rx="3" ry="1.95" fill="#000000"/><rect x="460.40" y="49.45" width="14.40" height="3.90" rx="3" ry="1.95" fill="#434343"/><rect x="477.70" y="49.45" width="14.40" height="3.90" rx="3" ry="1.95" fill="#000000"/><rect x="495.00" y="49.45" width="14.40" height="3.90" rx="3" ry="1.95" fill="#838383"/></g>
<rect x="440.40" y="57.20" width="71.00" height="12.40" fill="#f6f6f6" stroke="#858585" stroke-width="1"/>
<g filter="url(#bl)"><rect x="443.10" y="61.85" width="14.40" height="3.90" rx="3" ry="1.95" fill="#0d0d0d"/><rect x="460.40" y="61.85" width="14.40" height="3.90" rx="3" ry="1.95" fill="#0d0d0d"/><rect x="477.70" y="61.85" width="14.40" height="3.90" rx="3" ry="1.95" fill="#0d0d0d"/><rect x="495.00" y="61.85" width="14.40" height="3.90" rx="3" ry="1.95" fill="#0d0d0d"/></g>
<rect x="440.40" y="71.50" width="71.00" height="15.00" fill="#999999" stroke="#858585" stroke-width="1"/>
<g filter="url(#bl)"><rect x="443.10" y="75.90" width="14.40" height="3.40" rx="3" ry="1.70" fill="#0a0a0a"/><rect x="460.40" y="75.90" width="14.40" height="3.40" rx="3" ry="1.70" fill="#909090"/><rect x="477.70" y="75.90" width="14.40" height="3.40" rx="3" ry="1.70" fill="#0a0a0a"/><rect x="495.00" y="75.90" width="14.40" height="3.40" rx="3" ry="1.70" fill="#909090"/><rect x="443.10" y="81.15" width="14.40" height="2.70" rx="3" ry="1.35" fill="#292929"/><rect x="460.40" y="81.15" width="14.40" height="2.70" rx="3" ry="1.35" fill="#939393"/><rect x="477.70" y="81.15" width="14.40" height="2.70" rx="3" ry="1.35" fill="#292929"/><rect x="495.00" y="81.15" width="14.40" height="2.70" rx="3" ry="1.35" fill="#939393"/></g>
<rect x="440.40" y="88.20" width="71.00" height="15.30" fill="#f6f6f6" stroke="#858585" stroke-width="1"/>
<g filter="url(#bl)"><rect x="443.10" y="91.65" width="14.40" height="4.70" rx="3" ry="2.35" fill="#777777"/><rect x="460.40" y="91.65" width="14.40" height="4.70" rx="3" ry="2.35" fill="#777777"/><rect x="477.70" y="91.65" width="14.40" height="4.70" rx="3" ry="2.35" fill="#777777"/><rect x="495.00" y="91.65" width="14.40" height="4.70" rx="3" ry="2.35" fill="#777777"/><rect x="443.10" y="97.15" width="14.40" height="3.70" rx="3" ry="1.85" fill="#000000"/><rect x="460.40" y="97.15" width="14.40" height="3.70" rx="3" ry="1.85" fill="#000000"/><rect x="477.70" y="97.15" width="14.40" height="3.70" rx="3" ry="1.85" fill="#000000"/><rect x="495.00" y="97.15" width="14.40" height="3.70" rx="3" ry="1.85" fill="#000000"/></g>
<rect x="440.40" y="105.30" width="71.00" height="16.90" fill="#f6f6f6" stroke="#858585" stroke-width="1"/>
<g filter="url(#bl)"><rect x="443.10" y="115.65" width="14.40" height="4.30" rx="3" ry="2.15" fill="#000000"/><rect x="460.40" y="115.65" width="14.40" height="4.30" rx="3" ry="2.15" fill="#0d0d0d"/><rect x="477.70" y="115.65" width="14.40" height="4.30" rx="3" ry="2.15" fill="#dedede"/><rect x="495.00" y="115.65" width="14.40" height="4.30" rx="3" ry="2.15" fill="#e7e7e7"/></g>
<rect x="440.40" y="124.30" width="71.00" height="16.70" fill="#f6f6f6" stroke="#858585" stroke-width="1"/>
<g filter="url(#bl)"><rect x="443.10" y="132.05" width="14.40" height="3.10" rx="3" ry="1.55" fill="#838383"/><rect x="460.40" y="132.05" width="14.40" height="3.10" rx="3" ry="1.55" fill="#838383"/><rect x="477.70" y="132.05" width="14.40" height="3.10" rx="3" ry="1.55" fill="#838383"/><rect x="495.00" y="132.05" width="14.40" height="3.10" rx="3" ry="1.55" fill="#838383"/><rect x="443.10" y="134.75" width="14.40" height="3.50" rx="3" ry="1.75" fill="#1b1b1b"/><rect x="460.40" y="134.75" width="14.40" height="3.50" rx="3" ry="1.75" fill="#1b1b1b"/><rect x="477.70" y="134.75" width="14.40" height="3.50" rx="3" ry="1.75" fill="#1b1b1b"/><rect x="495.00" y="134.75" width="14.40" height="3.50" rx="3" ry="1.75" fill="#1b1b1b"/></g>
<rect x="440.40" y="142.90" width="71.00" height="10.10" fill="#f6f6f6" stroke="#858585" stroke-width="1"/>
<g filter="url(#bl)"><rect x="443.10" y="146.65" width="14.40" height="4.10" rx="3" ry="2.05" fill="#434343"/><rect x="460.40" y="146.65" width="14.40" height="4.10" rx="3" ry="2.05" fill="#f3f3f3"/><rect x="477.70" y="146.65" width="14.40" height="4.10" rx="3" ry="2.05" fill="#0d0d0d"/><rect x="495.00" y="146.65" width="14.40" height="4.10" rx="3" ry="2.05" fill="#f3f3f3"/></g>
<rect x="440.40" y="154.60" width="71.00" height="13.90" fill="#f6f6f6" stroke="#858585" stroke-width="1"/>
<g filter="url(#bl)"><rect x="443.10" y="158.05" width="14.40" height="3.50" rx="3" ry="1.75" fill="#000000"/><rect x="460.40" y="158.05" width="14.40" height="3.50" rx="3" ry="1.75" fill="#1b1b1b"/><rect x="477.70" y="158.05" width="14.40" height="3.50" rx="3" ry="1.75" fill="#000000"/><rect x="495.00" y="158.05" width="14.40" height="3.50" rx="3" ry="1.75" fill="#282828"/><rect x="443.10" y="162.35" width="14.40" height="3.90" rx="3" ry="1.95" fill="#000000"/><rect x="460.40" y="162.35" width="14.40" height="3.90" rx="3" ry="1.95" fill="#838383"/><rect x="477.70" y="162.35" width="14.40" height="3.90" rx="3" ry="1.95" fill="#000000"/><rect x="495.00" y="162.35" width="14.40" height="3.90" rx="3" ry="1.95" fill="#909090"/></g>
<rect x="440.40" y="170.50" width="71.00" height="14.50" fill="#f6f6f6" stroke="#858585" stroke-width="1"/>
<g filter="url(#bl)"><rect x="443.10" y="176.95" width="14.40" height="4.50" rx="3" ry="2.25" fill="#000000"/><rect x="460.40" y="176.95" width="14.40" height="4.50" rx="3" ry="2.25" fill="#9c9c9c"/><rect x="477.70" y="176.95" width="14.40" height="4.50" rx="3" ry="2.25" fill="#838383"/><rect x="495.00" y="176.95" width="14.40" height="4.50" rx="3" ry="2.25" fill="#b5b5b5"/></g>
<rect x="440.40" y="187.00" width="71.00" height="10.80" fill="#f6f6f6" stroke="#858585" stroke-width="1"/>
<g filter="url(#bl)"><rect x="443.10" y="191.65" width="14.40" height="3.50" rx="3" ry="1.75" fill="#0d0d0d"/><rect x="460.40" y="191.65" width="14.40" height="3.50" rx="3" ry="1.75" fill="#6a6a6a"/><rect x="477.70" y="191.65" width="14.40" height="3.50" rx="3" ry="1.75" fill="#0d0d0d"/><rect x="495.00" y="191.65" width="14.40" height="3.50" rx="3" ry="1.75" fill="#6a6a6a"/></g>
<rect x="440.40" y="199.60" width="71.00" height="11.70" fill="#f6f6f6" stroke="#858585" stroke-width="1"/>
<g filter="url(#bl)"><rect x="443.10" y="204.65" width="14.40" height="3.50" rx="3" ry="1.75" fill="#282828"/><rect x="460.40" y="204.65" width="14.40" height="3.50" rx="3" ry="1.75" fill="#282828"/><rect x="477.70" y="204.65" width="14.40" height="3.50" rx="3" ry="1.75" fill="#282828"/><rect x="495.00" y="204.65" width="14.40" height="3.50" rx="3" ry="1.75" fill="#1b1b1b"/></g>
<rect x="440.40" y="213.20" width="71.00" height="13.00" fill="#f6f6f6" stroke="#858585" stroke-width="1"/>
<g filter="url(#bl)"><rect x="443.10" y="218.15" width="14.40" height="3.70" rx="3" ry="1.85" fill="#0d0d0d"/><rect x="460.40" y="218.15" width="14.40" height="3.70" rx="3" ry="1.85" fill="#0d0d0d"/><rect x="477.70" y="218.15" width="14.40" height="3.70" rx="3" ry="1.85" fill="#0d0d0d"/><rect x="495.00" y="218.15" width="14.40" height="3.70" rx="3" ry="1.85" fill="#0d0d0d"/></g>
<text x="303.80" y="236.80" font-size="8.6" stroke="#000" stroke-width="0.22" textLength="45" lengthAdjust="spacingAndGlyphs"><tspan font-style="italic">JAK2</tspan> R683G</text>
<text x="380.90" y="236.50" font-size="8.6" stroke="#000" stroke-width="0.22" textLength="40.6" lengthAdjust="spacingAndGlyphs"><tspan font-style="italic">JAK2</tspan> I682F</text>
<text x="380.00" y="246.00" font-size="8.6" stroke="#000" stroke-width="0.22" textLength="43" lengthAdjust="spacingAndGlyphs">*<tspan font-style="italic">KRAS</tspan> L23R</text>
<text x="453.00" y="236.50" font-size="8.6" stroke="#000" stroke-width="0.22" textLength="44.8" lengthAdjust="spacingAndGlyphs"><tspan font-style="italic">JAK2</tspan> R683G</text>
<text x="454.80" y="246.00" font-size="8.6" fill="#d4264a" stroke="#d4264a" stroke-width="0.22" textLength="42.2" lengthAdjust="spacingAndGlyphs"><tspan font-style="italic">KRAS</tspan> G13D</text>
<line x1="45.50" y1="273.80" x2="45.50" y2="374.00" stroke="#000" stroke-width="1.1"/>
<line x1="45.00" y1="373.40" x2="111.00" y2="373.40" stroke="#000" stroke-width="1.1"/>
<line x1="42.50" y1="290.20" x2="45.50" y2="290.20" stroke="#000" stroke-width="1"/>
<text x="39.30" y="293.10" font-size="8.2" text-anchor="end" stroke="#000" stroke-width="0.12" textLength="10.5" lengthAdjust="spacingAndGlyphs">1.0</text>
<line x1="42.50" y1="331.80" x2="45.50" y2="331.80" stroke="#000" stroke-width="1"/>
<text x="39.30" y="334.70" font-size="8.2" text-anchor="end" stroke="#000" stroke-width="0.12" textLength="10.5" lengthAdjust="spacingAndGlyphs">0.5</text>
<line x1="42.50" y1="373.40" x2="45.50" y2="373.40" stroke="#000" stroke-width="1"/>
<text x="39.30" y="376.30" font-size="8.2" text-anchor="end" stroke="#000" stroke-width="0.12" textLength="10.5" lengthAdjust="spacingAndGlyphs">0.0</text>
<line x1="45.50" y1="373.40" x2="45.50" y2="376.40" stroke="#000" stroke-width="1"/>
<text x="45.50" y="386.00" font-size="8.2" text-anchor="middle" stroke="#000" stroke-width="0.12">0</text>
<line x1="74.10" y1="373.40" x2="74.10" y2="376.40" stroke="#000" stroke-width="1"/>
<text x="74.10" y="386.00" font-size="8.2" text-anchor="middle" stroke="#000" stroke-width="0.12">3</text>
<line x1="102.50" y1="373.40" x2="102.50" y2="376.40" stroke="#000" stroke-width="1"/>
<text x="102.50" y="386.00" font-size="8.2" text-anchor="middle" stroke="#000" stroke-width="0.12">6</text>
<text x="78.00" y="268.90" font-size="9.4" text-anchor="middle" stroke="#000" stroke-width="0.22">MUTZ5</text>
<polyline points="45.50,290.20 74.10,346.78 102.50,358.42" fill="none" stroke="#c8183e" stroke-width="1.4" stroke-linejoin="round"/>
<circle cx="45.50" cy="290.20" r="1.7" fill="#c8183e"/>
<circle cx="74.10" cy="346.78" r="1.7" fill="#c8183e"/>
<circle cx="102.50" cy="358.42" r="1.7" fill="#c8183e"/>
<polyline points="45.50,290.20 74.10,322.65 102.50,342.62" fill="none" stroke="#1f5b9a" stroke-width="1.4" stroke-linejoin="round"/>
<circle cx="45.50" cy="290.20" r="1.7" fill="#1f5b9a"/>
<line x1="74.10" y1="329.30" x2="74.10" y2="315.99" stroke="#1f5b9a" stroke-width="1.1"/>
<line x1="72.50" y1="329.30" x2="75.70" y2="329.30" stroke="#1f5b9a" stroke-width="1"/>
<line x1="72.50" y1="315.99" x2="75.70" y2="315.99" stroke="#1f5b9a" stroke-width="1"/>
<circle cx="74.10" cy="322.65" r="1.7" fill="#1f5b9a"/>
<circle cx="102.50" cy="342.62" r="1.7" fill="#1f5b9a"/>
<polyline points="45.50,290.20 74.10,319.32 102.50,321.82" fill="none" stroke="#3db54a" stroke-width="1.4" stroke-linejoin="round"/>
<circle cx="45.50" cy="290.20" r="1.7" fill="#3db54a"/>
<line x1="74.10" y1="321.82" x2="74.10" y2="316.82" stroke="#3db54a" stroke-width="1.1"/>
<line x1="72.50" y1="321.82" x2="75.70" y2="321.82" stroke="#3db54a" stroke-width="1"/>
<line x1="72.50" y1="316.82" x2="75.70" y2="316.82" stroke="#3db54a" stroke-width="1"/>
<circle cx="74.10" cy="319.32" r="1.7" fill="#3db54a"/>
<line x1="102.50" y1="324.31" x2="102.50" y2="319.32" stroke="#3db54a" stroke-width="1.1"/>
<line x1="100.90" y1="324.31" x2="104.10" y2="324.31" stroke="#3db54a" stroke-width="1"/>
<line x1="100.90" y1="319.32" x2="104.10" y2="319.32" stroke="#3db54a" stroke-width="1"/>
<circle cx="102.50" cy="321.82" r="1.7" fill="#3db54a"/>
<line x1="106.60" y1="343.30" x2="106.60" y2="357.60" stroke="#999" stroke-width="1"/>
<circle cx="109.20" cy="346.00" r="0.95" fill="#222"/>
<circle cx="109.20" cy="348.83" r="0.95" fill="#222"/>
<circle cx="109.20" cy="351.67" r="0.95" fill="#222"/>
<circle cx="109.20" cy="354.50" r="0.95" fill="#222"/>
<line x1="112.30" y1="322.90" x2="112.30" y2="357.60" stroke="#999" stroke-width="1"/>
<circle cx="114.70" cy="335.50" r="0.95" fill="#222"/>
<circle cx="114.70" cy="338.50" r="0.95" fill="#222"/>
<circle cx="114.70" cy="341.50" r="0.95" fill="#222"/>
<circle cx="114.70" cy="344.50" r="0.95" fill="#222"/>
<line x1="144.60" y1="273.80" x2="144.60" y2="374.00" stroke="#000" stroke-width="1.1"/>
<line x1="144.10" y1="373.40" x2="210.50" y2="373.40" stroke="#000" stroke-width="1.1"/>
<line x1="141.60" y1="290.20" x2="144.60" y2="290.20" stroke="#000" stroke-width="1"/>
<text x="138.40" y="293.10" font-size="8.2" text-anchor="end" stroke="#000" stroke-width="0.12" textLength="10.5" lengthAdjust="spacingAndGlyphs">1.0</text>
<line x1="141.60" y1="331.80" x2="144.60" y2="331.80" stroke="#000" stroke-width="1"/>
<text x="138.40" y="334.70" font-size="8.2" text-anchor="end" stroke="#000" stroke-width="0.12" textLength="10.5" lengthAdjust="spacingAndGlyphs">0.5</text>
<line x1="141.60" y1="373.40" x2="144.60" y2="373.40" stroke="#000" stroke-width="1"/>
<text x="138.40" y="376.30" font-size="8.2" text-anchor="end" stroke="#000" stroke-width="0.12" textLength="10.5" lengthAdjust="spacingAndGlyphs">0.0</text>
<line x1="144.60" y1="373.40" x2="144.60" y2="376.40" stroke="#000" stroke-width="1"/>
<text x="144.60" y="386.00" font-size="8.2" text-anchor="middle" stroke="#000" stroke-width="0.12">0</text>
<line x1="173.00" y1="373.40" x2="173.00" y2="376.40" stroke="#000" stroke-width="1"/>
<text x="173.00" y="386.00" font-size="8.2" text-anchor="middle" stroke="#000" stroke-width="0.12">3</text>
<line x1="201.50" y1="373.40" x2="201.50" y2="376.40" stroke="#000" stroke-width="1"/>
<text x="201.50" y="386.00" font-size="8.2" text-anchor="middle" stroke="#000" stroke-width="0.12">6</text>
<text x="177.00" y="268.90" font-size="9.4" text-anchor="middle" stroke="#000" stroke-width="0.22">MHH-CALL4</text>
<polyline points="144.60,290.20 173.00,348.44 201.50,360.09" fill="none" stroke="#c8183e" stroke-width="1.4" stroke-linejoin="round"/>
<circle cx="144.60" cy="290.20" r="1.7" fill="#c8183e"/>
<circle cx="173.00" cy="348.44" r="1.7" fill="#c8183e"/>
<circle cx="201.50" cy="360.09" r="1.7" fill="#c8183e"/>
<polyline points="144.60,290.20 173.00,335.96 201.50,354.26" fill="none" stroke="#3db54a" stroke-width="1.4" stroke-linejoin="round"/>
<circle cx="144.60" cy="290.20" r="1.7" fill="#3db54a"/>
<circle cx="173.00" cy="335.96" r="1.7" fill="#3db54a"/>
<circle cx="201.50" cy="354.26" r="1.7" fill="#3db54a"/>
<polyline points="144.60,290.20 173.00,311.00 201.50,323.48" fill="none" stroke="#1f5b9a" stroke-width="1.4" stroke-linejoin="round"/>
<circle cx="144.60" cy="290.20" r="1.7" fill="#1f5b9a"/>
<circle cx="173.00" cy="311.00" r="1.7" fill="#1f5b9a"/>
<circle cx="201.50" cy="323.48" r="1.7" fill="#1f5b9a"/>
<line x1="205.30" y1="352.00" x2="205.30" y2="360.70" stroke="#999" stroke-width="1"/>
<circle cx="208.00" cy="353.00" r="0.95" fill="#222"/>
<circle cx="208.00" cy="355.17" r="0.95" fill="#222"/>
<circle cx="208.00" cy="357.33" r="0.95" fill="#222"/>
<circle cx="208.00" cy="359.50" r="0.95" fill="#222"/>
<line x1="210.80" y1="324.00" x2="210.80" y2="360.00" stroke="#999" stroke-width="1"/>
<circle cx="214.00" cy="335.00" r="0.95" fill="#222"/>
<circle cx="214.00" cy="338.67" r="0.95" fill="#222"/>
<circle cx="214.00" cy="342.33" r="0.95" fill="#222"/>
<circle cx="214.00" cy="346.00" r="0.95" fill="#222"/>
<line x1="243.30" y1="273.80" x2="243.30" y2="374.00" stroke="#000" stroke-width="1.1"/>
<line x1="242.80" y1="373.40" x2="309.50" y2="373.40" stroke="#000" stroke-width="1.1"/>
<line x1="240.30" y1="290.20" x2="243.30" y2="290.20" stroke="#000" stroke-width="1"/>
<text x="237.10" y="293.10" font-size="8.2" text-anchor="end" stroke="#000" stroke-width="0.12" textLength="10.5" lengthAdjust="spacingAndGlyphs">1.0</text>
<line x1="240.30" y1="331.80" x2="243.30" y2="331.80" stroke="#000" stroke-width="1"/>
<text x="237.10" y="334.70" font-size="8.2" text-anchor="end" stroke="#000" stroke-width="0.12" textLength="10.5" lengthAdjust="spacingAndGlyphs">0.5</text>
<line x1="240.30" y1="373.40" x2="243.30" y2="373.40" stroke="#000" stroke-width="1"/>
<text x="237.10" y="376.30" font-size="8.2" text-anchor="end" stroke="#000" stroke-width="0.12" textLength="10.5" lengthAdjust="spacingAndGlyphs">0.0</text>
<line x1="243.30" y1="373.40" x2="243.30" y2="376.40" stroke="#000" stroke-width="1"/>
<text x="243.30" y="386.00" font-size="8.2" text-anchor="middle" stroke="#000" stroke-width="0.12">0</text>
<line x1="271.60" y1="373.40" x2="271.60" y2="376.40" stroke="#000" stroke-width="1"/>
<text x="271.60" y="386.00" font-size="8.2" text-anchor="middle" stroke="#000" stroke-width="0.12">3</text>
<line x1="300.20" y1="373.40" x2="300.20" y2="376.40" stroke="#000" stroke-width="1"/>
<text x="300.20" y="386.00" font-size="8.2" text-anchor="middle" stroke="#000" stroke-width="0.12">6</text>
<text x="276.40" y="268.90" font-size="9.4" text-anchor="middle" stroke="#000" stroke-width="0.22">KOPN49</text>
<polyline points="243.30,290.20 271.60,336.79 300.20,356.76" fill="none" stroke="#c8183e" stroke-width="1.4" stroke-linejoin="round"/>
<circle cx="243.30" cy="290.20" r="1.7" fill="#c8183e"/>
<circle cx="271.60" cy="336.79" r="1.7" fill="#c8183e"/>
<circle cx="300.20" cy="356.76" r="1.7" fill="#c8183e"/>
<polyline points="243.30,290.20 271.60,314.33 300.20,330.14" fill="none" stroke="#1f5b9a" stroke-width="1.4" stroke-linejoin="round"/>
<circle cx="243.30" cy="290.20" r="1.7" fill="#1f5b9a"/>
<circle cx="271.60" cy="314.33" r="1.7" fill="#1f5b9a"/>
<line x1="300.20" y1="332.63" x2="300.20" y2="327.64" stroke="#1f5b9a" stroke-width="1.1"/>
<line x1="298.60" y1="332.63" x2="301.80" y2="332.63" stroke="#1f5b9a" stroke-width="1"/>
<line x1="298.60" y1="327.64" x2="301.80" y2="327.64" stroke="#1f5b9a" stroke-width="1"/>
<circle cx="300.20" cy="330.14" r="1.7" fill="#1f5b9a"/>
<polyline points="243.30,290.20 271.60,287.70 300.20,284.38" fill="none" stroke="#3db54a" stroke-width="1.4" stroke-linejoin="round"/>
<circle cx="243.30" cy="290.20" r="1.7" fill="#3db54a"/>
<line x1="271.60" y1="290.20" x2="271.60" y2="285.21" stroke="#3db54a" stroke-width="1.1"/>
<line x1="270.00" y1="290.20" x2="273.20" y2="290.20" stroke="#3db54a" stroke-width="1"/>
<line x1="270.00" y1="285.21" x2="273.20" y2="285.21" stroke="#3db54a" stroke-width="1"/>
<circle cx="271.60" cy="287.70" r="1.7" fill="#3db54a"/>
<line x1="300.20" y1="286.87" x2="300.20" y2="281.88" stroke="#3db54a" stroke-width="1.1"/>
<line x1="298.60" y1="286.87" x2="301.80" y2="286.87" stroke="#3db54a" stroke-width="1"/>
<line x1="298.60" y1="281.88" x2="301.80" y2="281.88" stroke="#3db54a" stroke-width="1"/>
<circle cx="300.20" cy="284.38" r="1.7" fill="#3db54a"/>
<line x1="304.20" y1="330.00" x2="304.20" y2="357.20" stroke="#999" stroke-width="1"/>
<circle cx="307.40" cy="337.50" r="0.95" fill="#222"/>
<circle cx="307.40" cy="340.83" r="0.95" fill="#222"/>
<circle cx="307.40" cy="344.17" r="0.95" fill="#222"/>
<circle cx="307.40" cy="347.50" r="0.95" fill="#222"/>
<line x1="309.50" y1="284.40" x2="309.50" y2="357.20" stroke="#999" stroke-width="1"/>
<circle cx="312.70" cy="316.00" r="0.95" fill="#222"/>
<circle cx="312.70" cy="319.50" r="0.95" fill="#222"/>
<circle cx="312.70" cy="323.00" r="0.95" fill="#222"/>
<circle cx="312.70" cy="326.50" r="0.95" fill="#222"/>
<text x="177.60" y="398.50" font-size="8.6" text-anchor="middle" stroke="#000" stroke-width="0.22" textLength="15.7" lengthAdjust="spacingAndGlyphs">Days</text>
<text x="22.00" y="323.50" font-size="9" text-anchor="middle" stroke="#000" stroke-width="0.22" textLength="54.3" lengthAdjust="spacingAndGlyphs" transform="rotate(-90 22.00 323.50)">Relative viability</text>
<line x1="324.70" y1="293.90" x2="336.80" y2="293.90" stroke="#3db54a" stroke-width="1.4"/>
<text x="340.60" y="296.60" font-size="7.6" stroke="#000" stroke-width="0.22" textLength="46.2" lengthAdjust="spacingAndGlyphs">Tram (500nM)</text>
<line x1="324.70" y1="306.60" x2="336.80" y2="306.60" stroke="#1f5b9a" stroke-width="1.4"/>
<text x="340.60" y="309.30" font-size="7.6" stroke="#000" stroke-width="0.22" textLength="41.3" lengthAdjust="spacingAndGlyphs">Gilt (500nM)</text>
<line x1="324.70" y1="318.70" x2="336.80" y2="318.70" stroke="#c8183e" stroke-width="1.4"/>
<text x="340.60" y="321.40" font-size="7.6" stroke="#000" stroke-width="0.22" textLength="92.0" lengthAdjust="spacingAndGlyphs">Tram (500nM)+Gilt (500nM)</text>
<line x1="34.40" y1="430.50" x2="34.40" y2="525.00" stroke="#000" stroke-width="1.1"/>
<line x1="33.90" y1="524.40" x2="132.80" y2="524.40" stroke="#000" stroke-width="1.1"/>
<line x1="31.40" y1="524.40" x2="34.40" y2="524.40" stroke="#000" stroke-width="1"/>
<text x="28.50" y="527.30" font-size="8.2" text-anchor="end" stroke="#000" stroke-width="0.12">0</text>
<line x1="31.40" y1="501.50" x2="34.40" y2="501.50" stroke="#000" stroke-width="1"/>
<text x="28.50" y="504.40" font-size="8.2" text-anchor="end" stroke="#000" stroke-width="0.12">10</text>
<line x1="31.40" y1="478.60" x2="34.40" y2="478.60" stroke="#000" stroke-width="1"/>
<text x="28.50" y="481.50" font-size="8.2" text-anchor="end" stroke="#000" stroke-width="0.12">20</text>
<line x1="31.40" y1="455.70" x2="34.40" y2="455.70" stroke="#000" stroke-width="1"/>
<text x="28.50" y="458.60" font-size="8.2" text-anchor="end" stroke="#000" stroke-width="0.12">30</text>
<line x1="31.40" y1="432.80" x2="34.40" y2="432.80" stroke="#000" stroke-width="1"/>
<text x="28.50" y="435.70" font-size="8.2" text-anchor="end" stroke="#000" stroke-width="0.12">40</text>
<line x1="34.40" y1="524.40" x2="34.40" y2="527.40" stroke="#000" stroke-width="1"/>
<text x="34.40" y="537.80" font-size="8.2" text-anchor="middle" stroke="#000" stroke-width="0.12">0</text>
<line x1="67.00" y1="524.40" x2="67.00" y2="527.40" stroke="#000" stroke-width="1"/>
<text x="67.00" y="537.80" font-size="8.2" text-anchor="middle" stroke="#000" stroke-width="0.12">5</text>
<line x1="99.60" y1="524.40" x2="99.60" y2="527.40" stroke="#000" stroke-width="1"/>
<text x="99.60" y="537.80" font-size="8.2" text-anchor="middle" stroke="#000" stroke-width="0.12">10</text>
<line x1="132.20" y1="524.40" x2="132.20" y2="527.40" stroke="#000" stroke-width="1"/>
<text x="132.20" y="537.80" font-size="8.2" text-anchor="middle" stroke="#000" stroke-width="0.12">15</text>
<text x="84.00" y="550.70" font-size="8.6" text-anchor="middle" stroke="#000" stroke-width="0.22" textLength="15.9" lengthAdjust="spacingAndGlyphs">Days</text>
<text x="14.00" y="479.80" font-size="9" text-anchor="middle" stroke="#000" stroke-width="0.22" textLength="53.4" lengthAdjust="spacingAndGlyphs" transform="rotate(-90 14.00 479.80)">% ALL cells in PB</text>
<polyline points="34.40,520.97 80.04,488.22 125.68,454.10" fill="none" stroke="#f39224" stroke-width="1.3" stroke-linejoin="round"/>
<circle cx="34.40" cy="520.97" r="1.7" fill="#f39224"/>
<line x1="80.04" y1="496.92" x2="80.04" y2="479.97" stroke="#f39224" stroke-width="1"/>
<line x1="78.44" y1="496.92" x2="81.64" y2="496.92" stroke="#f39224" stroke-width="1"/>
<line x1="78.44" y1="479.97" x2="81.64" y2="479.97" stroke="#f39224" stroke-width="1"/>
<circle cx="80.04" cy="488.22" r="1.7" fill="#f39224"/>
<line x1="125.68" y1="471.27" x2="125.68" y2="437.38" stroke="#f39224" stroke-width="1"/>
<line x1="124.08" y1="471.27" x2="127.28" y2="471.27" stroke="#f39224" stroke-width="1"/>
<line x1="124.08" y1="437.38" x2="127.28" y2="437.38" stroke="#f39224" stroke-width="1"/>
<circle cx="125.68" cy="454.10" r="1.7" fill="#f39224"/>
<polyline points="34.40,522.11 80.04,512.49 125.68,487.76" fill="none" stroke="#3db54a" stroke-width="1.3" stroke-linejoin="round"/>
<circle cx="34.40" cy="522.11" r="1.7" fill="#3db54a"/>
<line x1="80.04" y1="522.11" x2="80.04" y2="501.50" stroke="#3db54a" stroke-width="1"/>
<line x1="78.44" y1="522.11" x2="81.64" y2="522.11" stroke="#3db54a" stroke-width="1"/>
<line x1="78.44" y1="501.50" x2="81.64" y2="501.50" stroke="#3db54a" stroke-width="1"/>
<circle cx="80.04" cy="512.49" r="1.7" fill="#3db54a"/>
<line x1="125.68" y1="496.92" x2="125.68" y2="478.60" stroke="#3db54a" stroke-width="1"/>
<line x1="124.08" y1="496.92" x2="127.28" y2="496.92" stroke="#3db54a" stroke-width="1"/>
<line x1="124.08" y1="478.60" x2="127.28" y2="478.60" stroke="#3db54a" stroke-width="1"/>
<circle cx="125.68" cy="487.76" r="1.7" fill="#3db54a"/>
<polyline points="34.40,522.11 80.04,508.83 125.68,471.73" fill="none" stroke="#1f5b9a" stroke-width="1.3" stroke-linejoin="round"/>
<circle cx="34.40" cy="522.11" r="1.7" fill="#1f5b9a"/>
<line x1="80.04" y1="517.99" x2="80.04" y2="499.67" stroke="#1f5b9a" stroke-width="1"/>
<line x1="78.44" y1="517.99" x2="81.64" y2="517.99" stroke="#1f5b9a" stroke-width="1"/>
<line x1="78.44" y1="499.67" x2="81.64" y2="499.67" stroke="#1f5b9a" stroke-width="1"/>
<circle cx="80.04" cy="508.83" r="1.7" fill="#1f5b9a"/>
<line x1="125.68" y1="477.45" x2="125.68" y2="470.58" stroke="#1f5b9a" stroke-width="1"/>
<line x1="124.08" y1="477.45" x2="127.28" y2="477.45" stroke="#1f5b9a" stroke-width="1"/>
<line x1="124.08" y1="470.58" x2="127.28" y2="470.58" stroke="#1f5b9a" stroke-width="1"/>
<circle cx="125.68" cy="471.73" r="1.7" fill="#1f5b9a"/>
<polyline points="34.40,522.11 80.04,522.57 125.68,519.13" fill="none" stroke="#c8183e" stroke-width="1.3" stroke-linejoin="round"/>
<circle cx="34.40" cy="522.11" r="1.7" fill="#c8183e"/>
<circle cx="80.04" cy="522.57" r="1.7" fill="#c8183e"/>
<line x1="125.68" y1="523.03" x2="125.68" y2="515.24" stroke="#c8183e" stroke-width="1"/>
<line x1="124.08" y1="523.03" x2="127.28" y2="523.03" stroke="#c8183e" stroke-width="1"/>
<line x1="124.08" y1="515.24" x2="127.28" y2="515.24" stroke="#c8183e" stroke-width="1"/>
<circle cx="125.68" cy="519.13" r="1.7" fill="#c8183e"/>
<line x1="40.90" y1="434.40" x2="49.00" y2="434.40" stroke="#f39224" stroke-width="1.4"/>
<text x="51.70" y="437.20" font-size="7.9" stroke="#000" stroke-width="0.22" textLength="41.4" lengthAdjust="spacingAndGlyphs">DMSO (n=6)</text>
<line x1="40.90" y1="442.90" x2="49.00" y2="442.90" stroke="#3db54a" stroke-width="1.4"/>
<text x="51.70" y="445.70" font-size="7.9" stroke="#000" stroke-width="0.22" textLength="35.4" lengthAdjust="spacingAndGlyphs">Tram (n=6)</text>
<line x1="40.90" y1="451.70" x2="49.00" y2="451.70" stroke="#1f5b9a" stroke-width="1.4"/>
<text x="51.70" y="454.50" font-size="7.9" stroke="#000" stroke-width="0.22" textLength="31" lengthAdjust="spacingAndGlyphs">Gilt (n=6)</text>
<line x1="40.90" y1="460.50" x2="49.00" y2="460.50" stroke="#c8183e" stroke-width="1.4"/>
<text x="51.70" y="463.30" font-size="7.9" stroke="#000" stroke-width="0.22" textLength="52.4" lengthAdjust="spacingAndGlyphs">Tram+Gilt (n=5)</text>
<line x1="131.40" y1="454.30" x2="131.40" y2="487.30" stroke="#999" stroke-width="1"/>
<circle cx="133.50" cy="469.50" r="0.95" fill="#222"/>
<circle cx="133.50" cy="472.00" r="0.95" fill="#222"/>
<line x1="135.90" y1="454.30" x2="135.90" y2="518.60" stroke="#999" stroke-width="1"/>
<circle cx="138.30" cy="483.00" r="0.95" fill="#222"/>
<circle cx="138.30" cy="486.00" r="0.95" fill="#222"/>
<circle cx="138.30" cy="489.00" r="0.95" fill="#222"/>
<circle cx="138.30" cy="492.00" r="0.95" fill="#222"/>
<line x1="140.60" y1="487.60" x2="140.60" y2="518.60" stroke="#999" stroke-width="1"/>
<circle cx="143.30" cy="503.50" r="0.95" fill="#222"/>
<line x1="145.40" y1="471.70" x2="145.40" y2="518.60" stroke="#999" stroke-width="1"/>
<circle cx="147.80" cy="493.20" r="0.95" fill="#222"/>
<circle cx="147.80" cy="495.80" r="0.95" fill="#222"/>
<line x1="187.60" y1="442.40" x2="187.60" y2="526.50" stroke="#000" stroke-width="1.1"/>
<line x1="187.10" y1="525.90" x2="272.20" y2="525.90" stroke="#000" stroke-width="1.1"/>
<line x1="184.60" y1="442.90" x2="187.60" y2="442.90" stroke="#000" stroke-width="1"/>
<text x="182.80" y="445.80" font-size="8.2" text-anchor="end" stroke="#000" stroke-width="0.12">200</text>
<line x1="184.60" y1="463.60" x2="187.60" y2="463.60" stroke="#000" stroke-width="1"/>
<text x="182.80" y="466.50" font-size="8.2" text-anchor="end" stroke="#000" stroke-width="0.12">150</text>
<line x1="184.60" y1="484.40" x2="187.60" y2="484.40" stroke="#000" stroke-width="1"/>
<text x="182.80" y="487.30" font-size="8.2" text-anchor="end" stroke="#000" stroke-width="0.12">100</text>
<line x1="184.60" y1="505.20" x2="187.60" y2="505.20" stroke="#000" stroke-width="1"/>
<text x="182.80" y="508.10" font-size="8.2" text-anchor="end" stroke="#000" stroke-width="0.12">50</text>
<line x1="184.60" y1="526.00" x2="187.60" y2="526.00" stroke="#000" stroke-width="1"/>
<text x="182.80" y="528.90" font-size="8.2" text-anchor="end" stroke="#000" stroke-width="0.12">0</text>
<line x1="201.60" y1="525.90" x2="201.60" y2="528.60" stroke="#000" stroke-width="1"/>
<line x1="221.30" y1="525.90" x2="221.30" y2="528.60" stroke="#000" stroke-width="1"/>
<line x1="240.40" y1="525.90" x2="240.40" y2="528.60" stroke="#000" stroke-width="1"/>
<line x1="259.60" y1="525.90" x2="259.60" y2="528.60" stroke="#000" stroke-width="1"/>
<text x="204.00" y="535.00" font-size="8.5" text-anchor="end" stroke="#000" stroke-width="0.22" transform="rotate(-45 204.00 535.00)">DMSO</text>
<text x="223.70" y="535.00" font-size="8.5" text-anchor="end" stroke="#000" stroke-width="0.22" transform="rotate(-45 223.70 535.00)">Tram</text>
<text x="242.80" y="535.00" font-size="8.5" text-anchor="end" stroke="#000" stroke-width="0.22" transform="rotate(-45 242.80 535.00)">Gilt</text>
<text x="262.00" y="535.00" font-size="8.5" text-anchor="end" stroke="#000" stroke-width="0.22" transform="rotate(-45 262.00 535.00)">Tram+Gilt</text>
<line x1="201.60" y1="454.30" x2="201.60" y2="470.80" stroke="#f39224" stroke-width="1.0"/>
<line x1="198.30" y1="454.30" x2="204.90" y2="454.30" stroke="#f39224" stroke-width="1.0"/>
<line x1="198.30" y1="470.80" x2="204.90" y2="470.80" stroke="#f39224" stroke-width="1.0"/>
<line x1="195.40" y1="462.80" x2="207.80" y2="462.80" stroke="#f39224" stroke-width="1.2"/>
<circle cx="196.90" cy="455.10" r="1.35" fill="#f39224"/>
<circle cx="206.60" cy="454.90" r="1.35" fill="#f39224"/>
<circle cx="202.00" cy="457.70" r="1.35" fill="#f39224"/>
<circle cx="202.00" cy="463.80" r="1.35" fill="#f39224"/>
<circle cx="202.00" cy="468.20" r="1.35" fill="#f39224"/>
<circle cx="202.00" cy="475.70" r="1.35" fill="#f39224"/>
<line x1="221.30" y1="483.00" x2="221.30" y2="498.50" stroke="#3db54a" stroke-width="1.0"/>
<line x1="218.00" y1="483.00" x2="224.60" y2="483.00" stroke="#3db54a" stroke-width="1.0"/>
<line x1="218.00" y1="498.50" x2="224.60" y2="498.50" stroke="#3db54a" stroke-width="1.0"/>
<line x1="215.10" y1="490.80" x2="227.50" y2="490.80" stroke="#3db54a" stroke-width="1.2"/>
<circle cx="221.50" cy="479.20" r="1.35" fill="#3db54a"/>
<circle cx="221.50" cy="484.60" r="1.35" fill="#3db54a"/>
<circle cx="221.50" cy="489.50" r="1.35" fill="#3db54a"/>
<circle cx="221.50" cy="494.20" r="1.35" fill="#3db54a"/>
<circle cx="216.50" cy="500.00" r="1.35" fill="#3db54a"/>
<circle cx="226.20" cy="497.70" r="1.35" fill="#3db54a"/>
<line x1="240.40" y1="478.20" x2="240.40" y2="504.30" stroke="#1f5b9a" stroke-width="1.0"/>
<line x1="237.10" y1="478.20" x2="243.70" y2="478.20" stroke="#1f5b9a" stroke-width="1.0"/>
<line x1="237.10" y1="504.30" x2="243.70" y2="504.30" stroke="#1f5b9a" stroke-width="1.0"/>
<line x1="234.20" y1="491.10" x2="246.60" y2="491.10" stroke="#1f5b9a" stroke-width="1.2"/>
<circle cx="240.50" cy="475.40" r="1.35" fill="#1f5b9a"/>
<circle cx="240.50" cy="480.00" r="1.35" fill="#1f5b9a"/>
<circle cx="240.50" cy="483.50" r="1.35" fill="#1f5b9a"/>
<circle cx="240.50" cy="487.00" r="1.35" fill="#1f5b9a"/>
<circle cx="240.50" cy="491.50" r="1.35" fill="#1f5b9a"/>
<circle cx="240.50" cy="495.70" r="1.35" fill="#1f5b9a"/>
<circle cx="240.50" cy="513.80" r="1.35" fill="#1f5b9a"/>
<line x1="259.60" y1="505.80" x2="259.60" y2="518.20" stroke="#c8183e" stroke-width="1.0"/>
<line x1="256.30" y1="505.80" x2="262.90" y2="505.80" stroke="#c8183e" stroke-width="1.0"/>
<line x1="256.30" y1="518.20" x2="262.90" y2="518.20" stroke="#c8183e" stroke-width="1.0"/>
<line x1="253.40" y1="511.00" x2="265.80" y2="511.00" stroke="#c8183e" stroke-width="1.2"/>
<circle cx="259.70" cy="504.60" r="1.35" fill="#c8183e"/>
<circle cx="254.60" cy="511.00" r="1.35" fill="#c8183e"/>
<circle cx="264.60" cy="511.00" r="1.35" fill="#c8183e"/>
<circle cx="259.70" cy="513.50" r="1.35" fill="#c8183e"/>
<circle cx="259.70" cy="521.20" r="1.35" fill="#c8183e"/>
<polyline points="201.60,449.60 201.60,431.60 259.60,431.60 259.60,484.30" fill="none" stroke="#7a7a7a" stroke-width="0.8" stroke-linejoin="round"/>
<polyline points="201.60,443.20 221.30,443.20 221.30,473.00" fill="none" stroke="#7a7a7a" stroke-width="0.8" stroke-linejoin="round"/>
<polyline points="201.60,437.30 240.40,437.30 240.40,470.50" fill="none" stroke="#7a7a7a" stroke-width="0.8" stroke-linejoin="round"/>
<polyline points="240.90,427.00 259.60,427.00" fill="none" stroke="#7a7a7a" stroke-width="0.8" stroke-linejoin="round"/>
<polyline points="221.30,421.40 259.60,421.40" fill="none" stroke="#7a7a7a" stroke-width="0.8" stroke-linejoin="round"/>
<circle cx="207.90" cy="440.80" r="0.95" fill="#222"/>
<circle cx="209.90" cy="440.80" r="0.95" fill="#222"/>
<circle cx="211.90" cy="440.80" r="0.95" fill="#222"/>
<circle cx="220.20" cy="435.00" r="0.95" fill="#222"/>
<circle cx="222.20" cy="435.00" r="0.95" fill="#222"/>
<circle cx="224.20" cy="435.00" r="0.95" fill="#222"/>
<circle cx="228.70" cy="429.30" r="0.95" fill="#222"/>
<circle cx="230.70" cy="429.30" r="0.95" fill="#222"/>
<circle cx="232.70" cy="429.30" r="0.95" fill="#222"/>
<circle cx="234.70" cy="429.30" r="0.95" fill="#222"/>
<circle cx="248.70" cy="424.70" r="0.95" fill="#222"/>
<circle cx="250.70" cy="424.70" r="0.95" fill="#222"/>
<circle cx="239.00" cy="418.90" r="0.95" fill="#222"/>
<circle cx="241.00" cy="418.90" r="0.95" fill="#222"/>
<text x="163.80" y="484.20" font-size="9" text-anchor="middle" stroke="#000" stroke-width="0.22" textLength="66" lengthAdjust="spacingAndGlyphs" transform="rotate(-90 163.80 484.20)">Spleen weight (mg)</text>
<line x1="308.80" y1="442.40" x2="308.80" y2="526.50" stroke="#000" stroke-width="1.1"/>
<line x1="308.30" y1="525.90" x2="391.50" y2="525.90" stroke="#000" stroke-width="1.1"/>
<line x1="305.80" y1="459.60" x2="308.80" y2="459.60" stroke="#000" stroke-width="1"/>
<text x="304.00" y="462.50" font-size="8.2" text-anchor="end" stroke="#000" stroke-width="0.12">20</text>
<line x1="305.80" y1="492.70" x2="308.80" y2="492.70" stroke="#000" stroke-width="1"/>
<text x="304.00" y="495.60" font-size="8.2" text-anchor="end" stroke="#000" stroke-width="0.12">10</text>
<line x1="305.80" y1="525.90" x2="308.80" y2="525.90" stroke="#000" stroke-width="1"/>
<text x="304.00" y="528.80" font-size="8.2" text-anchor="end" stroke="#000" stroke-width="0.12">0</text>
<line x1="321.10" y1="525.90" x2="321.10" y2="528.60" stroke="#000" stroke-width="1"/>
<line x1="340.30" y1="525.90" x2="340.30" y2="528.60" stroke="#000" stroke-width="1"/>
<line x1="359.50" y1="525.90" x2="359.50" y2="528.60" stroke="#000" stroke-width="1"/>
<line x1="378.80" y1="525.90" x2="378.80" y2="528.60" stroke="#000" stroke-width="1"/>
<text x="323.50" y="535.00" font-size="8.5" text-anchor="end" stroke="#000" stroke-width="0.22" transform="rotate(-45 323.50 535.00)">DMSO</text>
<text x="342.70" y="535.00" font-size="8.5" text-anchor="end" stroke="#000" stroke-width="0.22" transform="rotate(-45 342.70 535.00)">Tram</text>
<text x="361.90" y="535.00" font-size="8.5" text-anchor="end" stroke="#000" stroke-width="0.22" transform="rotate(-45 361.90 535.00)">Gilt</text>
<text x="381.20" y="535.00" font-size="8.5" text-anchor="end" stroke="#000" stroke-width="0.22" transform="rotate(-45 381.20 535.00)">Tram+Gilt</text>
<line x1="321.10" y1="454.20" x2="321.10" y2="476.20" stroke="#f39224" stroke-width="1.0"/>
<line x1="317.80" y1="454.20" x2="324.40" y2="454.20" stroke="#f39224" stroke-width="1.0"/>
<line x1="317.80" y1="476.20" x2="324.40" y2="476.20" stroke="#f39224" stroke-width="1.0"/>
<line x1="314.90" y1="464.60" x2="327.30" y2="464.60" stroke="#f39224" stroke-width="1.2"/>
<circle cx="318.90" cy="451.10" r="1.35" fill="#f39224"/>
<circle cx="323.80" cy="452.30" r="1.35" fill="#f39224"/>
<circle cx="316.50" cy="468.00" r="1.35" fill="#f39224"/>
<circle cx="326.20" cy="468.60" r="1.35" fill="#f39224"/>
<circle cx="321.10" cy="470.00" r="1.35" fill="#f39224"/>
<circle cx="321.10" cy="479.70" r="1.35" fill="#f39224"/>
<line x1="340.30" y1="493.80" x2="340.30" y2="511.50" stroke="#3db54a" stroke-width="1.0"/>
<line x1="337.00" y1="493.80" x2="343.60" y2="493.80" stroke="#3db54a" stroke-width="1.0"/>
<line x1="337.00" y1="511.50" x2="343.60" y2="511.50" stroke="#3db54a" stroke-width="1.0"/>
<line x1="334.10" y1="502.30" x2="346.50" y2="502.30" stroke="#3db54a" stroke-width="1.2"/>
<circle cx="345.40" cy="490.80" r="1.35" fill="#3db54a"/>
<circle cx="335.40" cy="494.20" r="1.35" fill="#3db54a"/>
<circle cx="340.30" cy="501.50" r="1.35" fill="#3db54a"/>
<circle cx="335.40" cy="506.20" r="1.35" fill="#3db54a"/>
<circle cx="345.40" cy="508.80" r="1.35" fill="#3db54a"/>
<circle cx="340.30" cy="514.60" r="1.35" fill="#3db54a"/>
<line x1="359.50" y1="480.00" x2="359.50" y2="512.00" stroke="#1f5b9a" stroke-width="1.0"/>
<line x1="356.20" y1="480.00" x2="362.80" y2="480.00" stroke="#1f5b9a" stroke-width="1.0"/>
<line x1="356.20" y1="512.00" x2="362.80" y2="512.00" stroke="#1f5b9a" stroke-width="1.0"/>
<line x1="353.30" y1="496.20" x2="365.70" y2="496.20" stroke="#1f5b9a" stroke-width="1.2"/>
<circle cx="354.60" cy="482.30" r="1.35" fill="#1f5b9a"/>
<circle cx="364.60" cy="481.20" r="1.35" fill="#1f5b9a"/>
<circle cx="364.60" cy="485.70" r="1.35" fill="#1f5b9a"/>
<circle cx="354.60" cy="501.50" r="1.35" fill="#1f5b9a"/>
<circle cx="364.60" cy="502.60" r="1.35" fill="#1f5b9a"/>
<circle cx="359.50" cy="522.80" r="1.35" fill="#1f5b9a"/>
<line x1="378.80" y1="519.20" x2="378.80" y2="525.50" stroke="#c8183e" stroke-width="1.0"/>
<line x1="375.50" y1="519.20" x2="382.10" y2="519.20" stroke="#c8183e" stroke-width="1.0"/>
<line x1="375.50" y1="525.50" x2="382.10" y2="525.50" stroke="#c8183e" stroke-width="1.0"/>
<line x1="372.60" y1="522.10" x2="385.00" y2="522.10" stroke="#c8183e" stroke-width="1.2"/>
<circle cx="376.20" cy="518.10" r="1.35" fill="#c8183e"/>
<circle cx="381.20" cy="518.50" r="1.35" fill="#c8183e"/>
<circle cx="383.50" cy="523.50" r="1.35" fill="#c8183e"/>
<circle cx="373.80" cy="525.00" r="1.35" fill="#c8183e"/>
<circle cx="378.80" cy="523.00" r="1.35" fill="#c8183e"/>
<polyline points="321.10,447.40 321.10,429.80 378.80,429.80 378.80,513.00" fill="none" stroke="#7a7a7a" stroke-width="0.8" stroke-linejoin="round"/>
<polyline points="321.10,442.00 340.30,442.00 340.30,487.00" fill="none" stroke="#7a7a7a" stroke-width="0.8" stroke-linejoin="round"/>
<polyline points="321.10,435.90 359.50,435.90 359.50,475.40" fill="none" stroke="#7a7a7a" stroke-width="0.8" stroke-linejoin="round"/>
<polyline points="359.50,425.30 378.80,425.30" fill="none" stroke="#7a7a7a" stroke-width="0.8" stroke-linejoin="round"/>
<polyline points="340.30,419.80 378.80,419.80" fill="none" stroke="#7a7a7a" stroke-width="0.8" stroke-linejoin="round"/>
<circle cx="327.30" cy="439.60" r="0.95" fill="#222"/>
<circle cx="329.30" cy="439.60" r="0.95" fill="#222"/>
<circle cx="331.30" cy="439.60" r="0.95" fill="#222"/>
<circle cx="333.30" cy="439.60" r="0.95" fill="#222"/>
<circle cx="339.80" cy="433.50" r="0.95" fill="#222"/>
<circle cx="341.80" cy="433.50" r="0.95" fill="#222"/>
<circle cx="343.80" cy="433.50" r="0.95" fill="#222"/>
<circle cx="346.20" cy="427.30" r="0.95" fill="#222"/>
<circle cx="348.20" cy="427.30" r="0.95" fill="#222"/>
<circle cx="350.20" cy="427.30" r="0.95" fill="#222"/>
<circle cx="352.20" cy="427.30" r="0.95" fill="#222"/>
<circle cx="368.00" cy="422.90" r="0.95" fill="#222"/>
<circle cx="370.00" cy="422.90" r="0.95" fill="#222"/>
<circle cx="359.60" cy="417.40" r="0.95" fill="#222"/>
<text x="288.00" y="484.00" font-size="9" text-anchor="middle" stroke="#000" stroke-width="0.22" textLength="85" lengthAdjust="spacingAndGlyphs" transform="rotate(-90 288.00 484.00)">ALL cells (×10<tspan font-size="5.8" dy="-3">7</tspan><tspan dy="3">) in spleen</tspan></text>
<line x1="429.40" y1="442.40" x2="429.40" y2="526.50" stroke="#000" stroke-width="1.1"/>
<line x1="428.90" y1="525.90" x2="512.70" y2="525.90" stroke="#000" stroke-width="1.1"/>
<line x1="426.40" y1="442.90" x2="429.40" y2="442.90" stroke="#000" stroke-width="1"/>
<text x="424.60" y="445.80" font-size="8.2" text-anchor="end" stroke="#000" stroke-width="0.12">100</text>
<line x1="426.40" y1="470.70" x2="429.40" y2="470.70" stroke="#000" stroke-width="1"/>
<text x="424.60" y="473.60" font-size="8.2" text-anchor="end" stroke="#000" stroke-width="0.12">80</text>
<line x1="426.40" y1="498.30" x2="429.40" y2="498.30" stroke="#000" stroke-width="1"/>
<text x="424.60" y="501.20" font-size="8.2" text-anchor="end" stroke="#000" stroke-width="0.12">60</text>
<line x1="426.40" y1="525.90" x2="429.40" y2="525.90" stroke="#000" stroke-width="1"/>
<text x="424.60" y="528.80" font-size="8.2" text-anchor="end" stroke="#000" stroke-width="0.12">40</text>
<line x1="442.20" y1="525.90" x2="442.20" y2="528.60" stroke="#000" stroke-width="1"/>
<line x1="461.40" y1="525.90" x2="461.40" y2="528.60" stroke="#000" stroke-width="1"/>
<line x1="480.80" y1="525.90" x2="480.80" y2="528.60" stroke="#000" stroke-width="1"/>
<line x1="500.00" y1="525.90" x2="500.00" y2="528.60" stroke="#000" stroke-width="1"/>
<text x="444.60" y="535.00" font-size="8.5" text-anchor="end" stroke="#000" stroke-width="0.22" transform="rotate(-45 444.60 535.00)">DMSO</text>
<text x="463.80" y="535.00" font-size="8.5" text-anchor="end" stroke="#000" stroke-width="0.22" transform="rotate(-45 463.80 535.00)">Tram</text>
<text x="483.20" y="535.00" font-size="8.5" text-anchor="end" stroke="#000" stroke-width="0.22" transform="rotate(-45 483.20 535.00)">Gilt</text>
<text x="502.40" y="535.00" font-size="8.5" text-anchor="end" stroke="#000" stroke-width="0.22" transform="rotate(-45 502.40 535.00)">Tram+Gilt</text>
<line x1="442.20" y1="451.00" x2="442.20" y2="454.00" stroke="#f39224" stroke-width="1.0"/>
<line x1="438.90" y1="451.00" x2="445.50" y2="451.00" stroke="#f39224" stroke-width="1.0"/>
<line x1="438.90" y1="454.00" x2="445.50" y2="454.00" stroke="#f39224" stroke-width="1.0"/>
<line x1="436.00" y1="452.50" x2="448.40" y2="452.50" stroke="#f39224" stroke-width="1.2"/>
<circle cx="437.00" cy="452.00" r="1.35" fill="#f39224"/>
<circle cx="439.70" cy="451.20" r="1.35" fill="#f39224"/>
<circle cx="442.30" cy="449.40" r="1.35" fill="#f39224"/>
<circle cx="445.00" cy="450.80" r="1.35" fill="#f39224"/>
<circle cx="447.60" cy="452.00" r="1.35" fill="#f39224"/>
<circle cx="441.50" cy="454.70" r="1.35" fill="#f39224"/>
<circle cx="440.60" cy="456.00" r="1.35" fill="#f39224"/>
<line x1="461.40" y1="454.00" x2="461.40" y2="457.00" stroke="#3db54a" stroke-width="1.0"/>
<line x1="458.10" y1="454.00" x2="464.70" y2="454.00" stroke="#3db54a" stroke-width="1.0"/>
<line x1="458.10" y1="457.00" x2="464.70" y2="457.00" stroke="#3db54a" stroke-width="1.0"/>
<line x1="455.20" y1="455.00" x2="467.60" y2="455.00" stroke="#3db54a" stroke-width="1.2"/>
<circle cx="456.10" cy="454.70" r="1.35" fill="#3db54a"/>
<circle cx="458.30" cy="454.70" r="1.35" fill="#3db54a"/>
<circle cx="460.50" cy="454.70" r="1.35" fill="#3db54a"/>
<circle cx="462.60" cy="454.70" r="1.35" fill="#3db54a"/>
<circle cx="464.80" cy="454.70" r="1.35" fill="#3db54a"/>
<circle cx="467.00" cy="454.70" r="1.35" fill="#3db54a"/>
<circle cx="460.00" cy="460.90" r="1.35" fill="#3db54a"/>
<circle cx="462.60" cy="460.00" r="1.35" fill="#3db54a"/>
<line x1="480.80" y1="449.00" x2="480.80" y2="470.20" stroke="#1f5b9a" stroke-width="1.0"/>
<line x1="477.50" y1="449.00" x2="484.10" y2="449.00" stroke="#1f5b9a" stroke-width="1.0"/>
<line x1="477.50" y1="470.20" x2="484.10" y2="470.20" stroke="#1f5b9a" stroke-width="1.0"/>
<line x1="474.60" y1="459.60" x2="487.00" y2="459.60" stroke="#1f5b9a" stroke-width="1.2"/>
<circle cx="476.20" cy="454.70" r="1.35" fill="#1f5b9a"/>
<circle cx="481.10" cy="452.00" r="1.35" fill="#1f5b9a"/>
<circle cx="485.60" cy="452.60" r="1.35" fill="#1f5b9a"/>
<circle cx="481.00" cy="455.60" r="1.35" fill="#1f5b9a"/>
<circle cx="480.80" cy="465.30" r="1.35" fill="#1f5b9a"/>
<circle cx="480.80" cy="478.50" r="1.35" fill="#1f5b9a"/>
<line x1="500.00" y1="450.30" x2="500.00" y2="506.40" stroke="#c8183e" stroke-width="1.0"/>
<line x1="496.70" y1="450.30" x2="503.30" y2="450.30" stroke="#c8183e" stroke-width="1.0"/>
<line x1="496.70" y1="506.40" x2="503.30" y2="506.40" stroke="#c8183e" stroke-width="1.0"/>
<line x1="493.80" y1="478.00" x2="506.20" y2="478.00" stroke="#c8183e" stroke-width="1.2"/>
<circle cx="500.00" cy="451.50" r="1.35" fill="#c8183e"/>
<circle cx="500.00" cy="456.80" r="1.35" fill="#c8183e"/>
<circle cx="500.00" cy="470.60" r="1.35" fill="#c8183e"/>
<circle cx="500.00" cy="491.70" r="1.35" fill="#c8183e"/>
<circle cx="500.00" cy="520.30" r="1.35" fill="#c8183e"/>
<polyline points="442.20,445.50 442.20,439.70 500.00,439.70 500.00,445.50" fill="none" stroke="#7a7a7a" stroke-width="0.8" stroke-linejoin="round"/>
<circle cx="471.10" cy="437.00" r="0.95" fill="#222"/>
<text x="404.70" y="484.70" font-size="9" text-anchor="middle" stroke="#000" stroke-width="0.22" textLength="56.4" lengthAdjust="spacingAndGlyphs" transform="rotate(-90 404.70 484.70)">% ALL cells in BM</text></svg></body></html>
